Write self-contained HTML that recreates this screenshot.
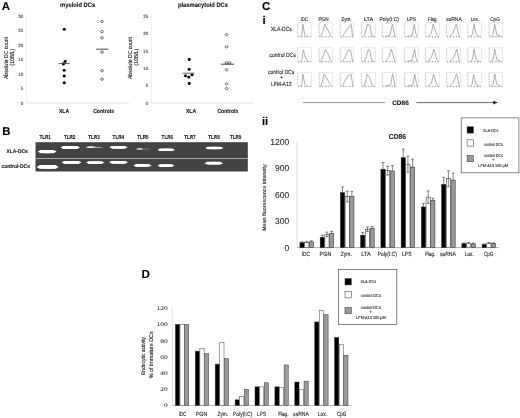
<!DOCTYPE html>
<html lang="en"><head><meta charset="utf-8"><title>Figure</title>
<style>
html,body{margin:0;padding:0;background:#fff;}
body{width:520px;height:418px;overflow:hidden;}
svg{display:block;font-family:"Liberation Sans", sans-serif;text-rendering:geometricPrecision;}
</style></head><body>
<svg width="520" height="418" viewBox="0 0 520 418">
<rect width="520" height="418" fill="#fff"/>
<text x="1.8" y="9.8" font-size="11.4" font-weight="bold" text-anchor="start" fill="#000" stroke="#000" stroke-width="0.1">A</text>
<text x="60" y="7.1" font-size="6.5" font-weight="bold" text-anchor="start" fill="#1a1a1a" stroke="#1a1a1a" stroke-width="0.12" textLength="35.2" lengthAdjust="spacingAndGlyphs">myeloid DCs</text>
<line x1="26.3" y1="14" x2="26.3" y2="103" stroke="#e6e6e6" stroke-width="0.7"/>
<line x1="26.3" y1="103" x2="129.3" y2="103" stroke="#dadada" stroke-width="0.8"/>
<text x="23.2" y="104.6" font-size="4.5" font-weight="normal" text-anchor="end" fill="#555" stroke="#555" stroke-width="0.13">0</text>
<text x="23.2" y="90.1" font-size="4.5" font-weight="normal" text-anchor="end" fill="#555" stroke="#555" stroke-width="0.13">5</text>
<text x="23.2" y="75.6" font-size="4.5" font-weight="normal" text-anchor="end" fill="#555" stroke="#555" stroke-width="0.13">10</text>
<text x="23.2" y="61.1" font-size="4.5" font-weight="normal" text-anchor="end" fill="#555" stroke="#555" stroke-width="0.13">15</text>
<text x="23.2" y="46.6" font-size="4.5" font-weight="normal" text-anchor="end" fill="#555" stroke="#555" stroke-width="0.13">20</text>
<text x="23.2" y="32.1" font-size="4.5" font-weight="normal" text-anchor="end" fill="#555" stroke="#555" stroke-width="0.13">25</text>
<text x="23.2" y="17.6" font-size="4.5" font-weight="normal" text-anchor="end" fill="#555" stroke="#555" stroke-width="0.13">30</text>
<circle cx="64.3" cy="29.3" r="1.55" fill="#0a0a0a"/>
<circle cx="65.2" cy="61.4" r="1.55" fill="#0a0a0a"/>
<circle cx="63.4" cy="63.9" r="1.55" fill="#0a0a0a"/>
<circle cx="64.2" cy="70.2" r="1.55" fill="#0a0a0a"/>
<circle cx="64.2" cy="76" r="1.55" fill="#0a0a0a"/>
<circle cx="64.2" cy="82.8" r="1.55" fill="#0a0a0a"/>
<line x1="58.5" y1="63.5" x2="69.8" y2="63.5" stroke="#444" stroke-width="0.8"/>
<ellipse cx="102" cy="21.4" rx="1.4" ry="1.15" fill="#fff" stroke="#2a2a2a" stroke-width="0.65"/>
<ellipse cx="102" cy="31.6" rx="1.4" ry="1.15" fill="#fff" stroke="#2a2a2a" stroke-width="0.65"/>
<ellipse cx="102" cy="37.8" rx="1.4" ry="1.15" fill="#fff" stroke="#2a2a2a" stroke-width="0.65"/>
<ellipse cx="102" cy="52.1" rx="1.4" ry="1.15" fill="#fff" stroke="#2a2a2a" stroke-width="0.65"/>
<ellipse cx="102" cy="70.7" rx="1.4" ry="1.15" fill="#fff" stroke="#2a2a2a" stroke-width="0.65"/>
<ellipse cx="102" cy="79.2" rx="1.4" ry="1.15" fill="#fff" stroke="#2a2a2a" stroke-width="0.65"/>
<line x1="96.2" y1="49.2" x2="108.3" y2="49.2" stroke="#333" stroke-width="0.9"/>
<text x="58.949999999999996" y="112.8" font-size="5.9" font-weight="bold" text-anchor="start" fill="#1a1a1a" stroke="#1a1a1a" stroke-width="0.12" textLength="10.2" lengthAdjust="spacingAndGlyphs">XLA</text>
<text x="93.14999999999999" y="112.8" font-size="5.9" font-weight="bold" text-anchor="start" fill="#1a1a1a" stroke="#1a1a1a" stroke-width="0.12" textLength="20.8" lengthAdjust="spacingAndGlyphs">Controls</text>
<text x="7.6" y="58" font-size="5.8" font-weight="normal" text-anchor="middle" fill="#222" stroke="#222" stroke-width="0.13" transform="rotate(-90 7.6 58)" textLength="42" lengthAdjust="spacingAndGlyphs">Absolute DC count</text>
<text x="13.8" y="57.2" font-size="5.8" font-weight="normal" text-anchor="middle" fill="#222" stroke="#222" stroke-width="0.13" transform="rotate(-90 13.8 57.2)" textLength="16.8" lengthAdjust="spacingAndGlyphs">(106/L)</text>
<text x="178" y="7.1" font-size="6.5" font-weight="bold" text-anchor="start" fill="#1a1a1a" stroke="#1a1a1a" stroke-width="0.12" textLength="50" lengthAdjust="spacingAndGlyphs">plasmacytoid DCs</text>
<line x1="151.3" y1="14" x2="151.3" y2="103" stroke="#e6e6e6" stroke-width="0.7"/>
<line x1="151.3" y1="103" x2="254.3" y2="103" stroke="#dadada" stroke-width="0.8"/>
<text x="148.20000000000002" y="104.6" font-size="4.5" font-weight="normal" text-anchor="end" fill="#555" stroke="#555" stroke-width="0.13">0</text>
<text x="148.20000000000002" y="87.25" font-size="4.5" font-weight="normal" text-anchor="end" fill="#555" stroke="#555" stroke-width="0.13">5</text>
<text x="148.20000000000002" y="69.89999999999999" font-size="4.5" font-weight="normal" text-anchor="end" fill="#555" stroke="#555" stroke-width="0.13">10</text>
<text x="148.20000000000002" y="52.55" font-size="4.5" font-weight="normal" text-anchor="end" fill="#555" stroke="#555" stroke-width="0.13">15</text>
<text x="148.20000000000002" y="35.199999999999996" font-size="4.5" font-weight="normal" text-anchor="end" fill="#555" stroke="#555" stroke-width="0.13">20</text>
<text x="148.20000000000002" y="17.85" font-size="4.5" font-weight="normal" text-anchor="end" fill="#555" stroke="#555" stroke-width="0.13">25</text>
<circle cx="189.2" cy="59.4" r="1.55" fill="#0a0a0a"/>
<circle cx="189.2" cy="69.2" r="1.55" fill="#0a0a0a"/>
<circle cx="188.8" cy="77.1" r="1.55" fill="#0a0a0a"/>
<circle cx="185.5" cy="75.7" r="1.55" fill="#0a0a0a"/>
<circle cx="192.0" cy="74.7" r="1.55" fill="#0a0a0a"/>
<circle cx="189.2" cy="83.4" r="1.55" fill="#0a0a0a"/>
<line x1="182.6" y1="73.2" x2="194.5" y2="73.2" stroke="#444" stroke-width="0.8"/>
<ellipse cx="226.6" cy="34.7" rx="1.4" ry="1.15" fill="#fff" stroke="#2a2a2a" stroke-width="0.65"/>
<ellipse cx="226.6" cy="46.8" rx="1.4" ry="1.15" fill="#fff" stroke="#2a2a2a" stroke-width="0.65"/>
<ellipse cx="226.6" cy="62.8" rx="1.4" ry="1.15" fill="#fff" stroke="#2a2a2a" stroke-width="0.65"/>
<ellipse cx="229.6" cy="62.8" rx="1.4" ry="1.15" fill="#fff" stroke="#2a2a2a" stroke-width="0.65"/>
<ellipse cx="226.6" cy="69.7" rx="1.4" ry="1.15" fill="#fff" stroke="#2a2a2a" stroke-width="0.65"/>
<ellipse cx="226.6" cy="83.9" rx="1.4" ry="1.15" fill="#fff" stroke="#2a2a2a" stroke-width="0.65"/>
<ellipse cx="226.6" cy="88.6" rx="1.4" ry="1.15" fill="#fff" stroke="#2a2a2a" stroke-width="0.65"/>
<line x1="220.8" y1="64.2" x2="234" y2="64.2" stroke="#333" stroke-width="0.9"/>
<text x="185.95000000000002" y="112.8" font-size="5.9" font-weight="bold" text-anchor="start" fill="#1a1a1a" stroke="#1a1a1a" stroke-width="0.12" textLength="10.2" lengthAdjust="spacingAndGlyphs">XLA</text>
<text x="217.45" y="112.8" font-size="5.9" font-weight="bold" text-anchor="start" fill="#1a1a1a" stroke="#1a1a1a" stroke-width="0.12" textLength="20.8" lengthAdjust="spacingAndGlyphs">Controls</text>
<text x="131.6" y="58" font-size="5.8" font-weight="normal" text-anchor="middle" fill="#222" stroke="#222" stroke-width="0.13" transform="rotate(-90 131.6 58)" textLength="42" lengthAdjust="spacingAndGlyphs">Absolute DC count</text>
<text x="137.79999999999998" y="57.2" font-size="5.8" font-weight="normal" text-anchor="middle" fill="#222" stroke="#222" stroke-width="0.13" transform="rotate(-90 137.79999999999998 57.2)" textLength="16.8" lengthAdjust="spacingAndGlyphs">(106/L)</text>
<text x="2.3" y="135.1" font-size="11.4" font-weight="bold" text-anchor="start" fill="#000" stroke="#000" stroke-width="0.1">B</text>
<rect x="35.5" y="142.2" width="212.3" height="29.3" fill="#434343"/>
<rect x="35.5" y="158.0" width="212.3" height="1.0" fill="#a8a8a8"/>
<text x="39.4" y="139.0" font-size="5.8" font-weight="bold" text-anchor="start" fill="#1a1a1a" stroke="#1a1a1a" stroke-width="0.12" textLength="11.4" lengthAdjust="spacingAndGlyphs">TLR1</text>
<text x="64.0" y="139.0" font-size="5.8" font-weight="bold" text-anchor="start" fill="#1a1a1a" stroke="#1a1a1a" stroke-width="0.12" textLength="11.4" lengthAdjust="spacingAndGlyphs">TLR2</text>
<text x="88.3" y="139.0" font-size="5.8" font-weight="bold" text-anchor="start" fill="#1a1a1a" stroke="#1a1a1a" stroke-width="0.12" textLength="11.4" lengthAdjust="spacingAndGlyphs">TLR3</text>
<text x="112.6" y="139.0" font-size="5.8" font-weight="bold" text-anchor="start" fill="#1a1a1a" stroke="#1a1a1a" stroke-width="0.12" textLength="11.4" lengthAdjust="spacingAndGlyphs">TLR4</text>
<text x="137.20000000000002" y="139.0" font-size="5.8" font-weight="bold" text-anchor="start" fill="#1a1a1a" stroke="#1a1a1a" stroke-width="0.12" textLength="11.4" lengthAdjust="spacingAndGlyphs">TLR5</text>
<text x="161.60000000000002" y="139.0" font-size="5.8" font-weight="bold" text-anchor="start" fill="#1a1a1a" stroke="#1a1a1a" stroke-width="0.12" textLength="11.4" lengthAdjust="spacingAndGlyphs">TLR6</text>
<text x="184.20000000000002" y="139.0" font-size="5.8" font-weight="bold" text-anchor="start" fill="#1a1a1a" stroke="#1a1a1a" stroke-width="0.12" textLength="11.4" lengthAdjust="spacingAndGlyphs">TLR7</text>
<text x="208.3" y="139.0" font-size="5.8" font-weight="bold" text-anchor="start" fill="#1a1a1a" stroke="#1a1a1a" stroke-width="0.12" textLength="11.4" lengthAdjust="spacingAndGlyphs">TLR8</text>
<text x="229.9" y="139.0" font-size="5.8" font-weight="bold" text-anchor="start" fill="#1a1a1a" stroke="#1a1a1a" stroke-width="0.12" textLength="11.4" lengthAdjust="spacingAndGlyphs">TLR9</text>
<text x="6.5" y="152.8" font-size="5.5" font-weight="bold" text-anchor="start" fill="#1a1a1a" stroke="#1a1a1a" stroke-width="0.12" textLength="21.3" lengthAdjust="spacingAndGlyphs">XLA-DCs</text>
<text x="1.5" y="168" font-size="5.5" font-weight="bold" text-anchor="start" fill="#1a1a1a" stroke="#1a1a1a" stroke-width="0.12" textLength="28.5" lengthAdjust="spacingAndGlyphs">control-DCs</text>
<ellipse cx="47.15" cy="151.6" rx="9.350000000000001" ry="1.575" fill="#fff" opacity="1"/>
<rect x="39.3" y="150.025" width="15.700000000000003" height="3.15" rx="1.575" fill="#fff" opacity="1"/>
<ellipse cx="70.25" cy="147.6" rx="9.75" ry="1.4849999999999999" fill="#fff" opacity="1"/>
<rect x="62.0" y="146.11499999999998" width="16.5" height="2.9699999999999998" rx="1.4849999999999999" fill="#fff" opacity="1"/>
<ellipse cx="91.0" cy="147.3" rx="5.0" ry="0.765" fill="#f0f0f0" opacity="1"/>
<rect x="87.5" y="146.53500000000003" width="7.0" height="1.53" rx="0.765" fill="#f0f0f0" opacity="1"/>
<ellipse cx="97.25" cy="147.4" rx="5.25" ry="0.45" fill="#b5b5b5" opacity="1"/>
<rect x="93.5" y="146.95000000000002" width="7.5" height="0.9" rx="0.45" fill="#b5b5b5" opacity="1"/>
<ellipse cx="118.5" cy="147.3" rx="9.0" ry="1.395" fill="#fff" opacity="1"/>
<rect x="111.0" y="145.905" width="15.0" height="2.79" rx="1.395" fill="#fff" opacity="1"/>
<ellipse cx="139.75" cy="148.9" rx="3.75" ry="0.675" fill="#cfcfcf" opacity="1"/>
<rect x="137.5" y="148.225" width="4.5" height="1.35" rx="0.675" fill="#cfcfcf" opacity="1"/>
<ellipse cx="146.5" cy="149.0" rx="4.5" ry="0.36000000000000004" fill="#8a8a8a" opacity="1"/>
<rect x="143.5" y="148.64" width="6.0" height="0.7200000000000001" rx="0.36000000000000004" fill="#8a8a8a" opacity="1"/>
<ellipse cx="166.25" cy="149.8" rx="8.75" ry="1.215" fill="#fff" opacity="1"/>
<rect x="159.0" y="148.585" width="14.5" height="2.43" rx="1.215" fill="#fff" opacity="1"/>
<ellipse cx="214.35" cy="148" rx="9.150000000000006" ry="1.215" fill="#fff" opacity="1"/>
<rect x="206.7" y="146.785" width="15.300000000000011" height="2.43" rx="1.215" fill="#fff" opacity="1"/>
<ellipse cx="47.65" cy="166.9" rx="10.850000000000001" ry="1.935" fill="#fff" opacity="1"/>
<rect x="38.3" y="164.965" width="18.700000000000003" height="3.87" rx="1.935" fill="#fff" opacity="1"/>
<ellipse cx="71.5" cy="162.4" rx="9.700000000000003" ry="1.4849999999999999" fill="#fff" opacity="1"/>
<rect x="63.3" y="160.915" width="16.400000000000006" height="2.9699999999999998" rx="1.4849999999999999" fill="#fff" opacity="1"/>
<ellipse cx="95.25" cy="162.6" rx="9.25" ry="1.305" fill="#fff" opacity="1"/>
<rect x="87.5" y="161.295" width="15.5" height="2.61" rx="1.305" fill="#fff" opacity="1"/>
<ellipse cx="118.6" cy="162.3" rx="9.399999999999999" ry="1.395" fill="#fff" opacity="1"/>
<rect x="110.7" y="160.905" width="15.799999999999997" height="2.79" rx="1.395" fill="#fff" opacity="1"/>
<ellipse cx="142.5" cy="165.4" rx="9.0" ry="1.395" fill="#fff" opacity="1"/>
<rect x="135.0" y="164.005" width="15.0" height="2.79" rx="1.395" fill="#fff" opacity="1"/>
<ellipse cx="166.0" cy="165.6" rx="8.5" ry="1.305" fill="#fff" opacity="1"/>
<rect x="159.0" y="164.295" width="14.0" height="2.61" rx="1.305" fill="#fff" opacity="1"/>
<ellipse cx="213.75" cy="163.2" rx="9.25" ry="1.395" fill="#fff" opacity="1"/>
<rect x="206.0" y="161.80499999999998" width="15.5" height="2.79" rx="1.395" fill="#fff" opacity="1"/>
<text x="262.1" y="9.5" font-size="11.4" font-weight="bold" text-anchor="start" fill="#000" stroke="#000" stroke-width="0.1">C</text>
<text x="262.5" y="23.5" font-size="11.4" font-weight="bold" text-anchor="start" fill="#000" stroke="#000" stroke-width="0.1">i</text>
<text x="304.3" y="20.9" font-size="5.4" font-weight="normal" text-anchor="middle" fill="#2a2a2a" stroke="#2a2a2a" stroke-width="0.13" textLength="7.3" lengthAdjust="spacingAndGlyphs">iDC</text>
<text x="323.5" y="20.9" font-size="5.4" font-weight="normal" text-anchor="middle" fill="#2a2a2a" stroke="#2a2a2a" stroke-width="0.13" textLength="10.2" lengthAdjust="spacingAndGlyphs">PGN</text>
<text x="346.5" y="20.9" font-size="5.4" font-weight="normal" text-anchor="middle" fill="#2a2a2a" stroke="#2a2a2a" stroke-width="0.13" textLength="10.3" lengthAdjust="spacingAndGlyphs">Zym.</text>
<text x="368.6" y="20.9" font-size="5.4" font-weight="normal" text-anchor="middle" fill="#2a2a2a" stroke="#2a2a2a" stroke-width="0.13" textLength="9.4" lengthAdjust="spacingAndGlyphs">LTA</text>
<text x="389.2" y="20.9" font-size="5.4" font-weight="normal" text-anchor="middle" fill="#2a2a2a" stroke="#2a2a2a" stroke-width="0.13" textLength="19.4" lengthAdjust="spacingAndGlyphs">Poly(I:C)</text>
<text x="411.5" y="20.9" font-size="5.4" font-weight="normal" text-anchor="middle" fill="#2a2a2a" stroke="#2a2a2a" stroke-width="0.13" textLength="9.2" lengthAdjust="spacingAndGlyphs">LPS</text>
<text x="432.8" y="20.9" font-size="5.4" font-weight="normal" text-anchor="middle" fill="#2a2a2a" stroke="#2a2a2a" stroke-width="0.13" textLength="9.5" lengthAdjust="spacingAndGlyphs">Flag.</text>
<text x="454" y="20.9" font-size="5.4" font-weight="normal" text-anchor="middle" fill="#2a2a2a" stroke="#2a2a2a" stroke-width="0.13" textLength="15.6" lengthAdjust="spacingAndGlyphs">ssRNA</text>
<text x="474.8" y="20.9" font-size="5.4" font-weight="normal" text-anchor="middle" fill="#2a2a2a" stroke="#2a2a2a" stroke-width="0.13" textLength="8.3" lengthAdjust="spacingAndGlyphs">Lox.</text>
<text x="495" y="20.9" font-size="5.4" font-weight="normal" text-anchor="middle" fill="#2a2a2a" stroke="#2a2a2a" stroke-width="0.13" textLength="9.6" lengthAdjust="spacingAndGlyphs">CpG</text>
<text x="271" y="31.3" font-size="6.0" font-weight="normal" text-anchor="start" fill="#2a2a2a" stroke="#2a2a2a" stroke-width="0.13" textLength="20.8" lengthAdjust="spacingAndGlyphs">XLA-DCs</text>
<text x="269.5" y="56.9" font-size="6.0" font-weight="normal" text-anchor="start" fill="#2a2a2a" stroke="#2a2a2a" stroke-width="0.13" textLength="26.2" lengthAdjust="spacingAndGlyphs">control DCs</text>
<text x="268" y="74.2" font-size="6.0" font-weight="normal" text-anchor="start" fill="#2a2a2a" stroke="#2a2a2a" stroke-width="0.13" textLength="26.2" lengthAdjust="spacingAndGlyphs">control DCs</text>
<text x="281.5" y="79.2" font-size="4.5" font-weight="normal" text-anchor="middle" fill="#2a2a2a" stroke="#2a2a2a" stroke-width="0.13">+</text>
<text x="271" y="85.8" font-size="6.0" font-weight="normal" text-anchor="start" fill="#2a2a2a" stroke="#2a2a2a" stroke-width="0.13" textLength="20.5" lengthAdjust="spacingAndGlyphs">LFM-A13</text>
<rect x="298.0" y="22.8" width="13.5" height="13.7" fill="none" stroke="#d8d8d8" stroke-width="0.5"/>
<line x1="296.9" y1="24.3" x2="298.2" y2="24.3" stroke="#a5a5a5" stroke-width="0.5"/>
<line x1="296.9" y1="27.0" x2="298.2" y2="27.0" stroke="#a5a5a5" stroke-width="0.5"/>
<line x1="296.9" y1="29.700000000000003" x2="298.2" y2="29.700000000000003" stroke="#a5a5a5" stroke-width="0.5"/>
<line x1="296.9" y1="32.400000000000006" x2="298.2" y2="32.400000000000006" stroke="#a5a5a5" stroke-width="0.5"/>
<line x1="296.9" y1="35.1" x2="298.2" y2="35.1" stroke="#a5a5a5" stroke-width="0.5"/>
<line x1="298.6" y1="36.1" x2="298.6" y2="37.5" stroke="#858585" stroke-width="0.7"/>
<line x1="301.6" y1="36.1" x2="301.6" y2="37.5" stroke="#858585" stroke-width="0.7"/>
<line x1="304.6" y1="36.1" x2="304.6" y2="37.5" stroke="#858585" stroke-width="0.7"/>
<line x1="307.6" y1="36.1" x2="307.6" y2="37.5" stroke="#858585" stroke-width="0.7"/>
<line x1="310.6" y1="36.1" x2="310.6" y2="37.5" stroke="#858585" stroke-width="0.7"/>
<polyline points="300.02,36.50 301.78,35.40 302.86,24.17 304.75,34.86 307.45,36.50" fill="none" stroke="#949494" stroke-width="0.75" stroke-linejoin="round"/>
<rect x="319.3" y="22.8" width="13.5" height="13.7" fill="none" stroke="#d8d8d8" stroke-width="0.5"/>
<line x1="318.2" y1="24.3" x2="319.5" y2="24.3" stroke="#a5a5a5" stroke-width="0.5"/>
<line x1="318.2" y1="27.0" x2="319.5" y2="27.0" stroke="#a5a5a5" stroke-width="0.5"/>
<line x1="318.2" y1="29.700000000000003" x2="319.5" y2="29.700000000000003" stroke="#a5a5a5" stroke-width="0.5"/>
<line x1="318.2" y1="32.400000000000006" x2="319.5" y2="32.400000000000006" stroke="#a5a5a5" stroke-width="0.5"/>
<line x1="318.2" y1="35.1" x2="319.5" y2="35.1" stroke="#a5a5a5" stroke-width="0.5"/>
<line x1="319.90000000000003" y1="36.1" x2="319.90000000000003" y2="37.5" stroke="#858585" stroke-width="0.7"/>
<line x1="322.90000000000003" y1="36.1" x2="322.90000000000003" y2="37.5" stroke="#858585" stroke-width="0.7"/>
<line x1="325.90000000000003" y1="36.1" x2="325.90000000000003" y2="37.5" stroke="#858585" stroke-width="0.7"/>
<line x1="328.90000000000003" y1="36.1" x2="328.90000000000003" y2="37.5" stroke="#858585" stroke-width="0.7"/>
<line x1="331.90000000000003" y1="36.1" x2="331.90000000000003" y2="37.5" stroke="#858585" stroke-width="0.7"/>
<polyline points="320.65,36.50 322.68,32.39 324.70,24.17 327.40,28.96 330.78,35.81" fill="none" stroke="#949494" stroke-width="0.75" stroke-linejoin="round"/>
<rect x="340.3" y="22.8" width="13.5" height="13.7" fill="none" stroke="#d8d8d8" stroke-width="0.5"/>
<line x1="339.2" y1="24.3" x2="340.5" y2="24.3" stroke="#a5a5a5" stroke-width="0.5"/>
<line x1="339.2" y1="27.0" x2="340.5" y2="27.0" stroke="#a5a5a5" stroke-width="0.5"/>
<line x1="339.2" y1="29.700000000000003" x2="340.5" y2="29.700000000000003" stroke="#a5a5a5" stroke-width="0.5"/>
<line x1="339.2" y1="32.400000000000006" x2="340.5" y2="32.400000000000006" stroke="#a5a5a5" stroke-width="0.5"/>
<line x1="339.2" y1="35.1" x2="340.5" y2="35.1" stroke="#a5a5a5" stroke-width="0.5"/>
<line x1="340.90000000000003" y1="36.1" x2="340.90000000000003" y2="37.5" stroke="#858585" stroke-width="0.7"/>
<line x1="343.90000000000003" y1="36.1" x2="343.90000000000003" y2="37.5" stroke="#858585" stroke-width="0.7"/>
<line x1="346.90000000000003" y1="36.1" x2="346.90000000000003" y2="37.5" stroke="#858585" stroke-width="0.7"/>
<line x1="349.90000000000003" y1="36.1" x2="349.90000000000003" y2="37.5" stroke="#858585" stroke-width="0.7"/>
<line x1="352.90000000000003" y1="36.1" x2="352.90000000000003" y2="37.5" stroke="#858585" stroke-width="0.7"/>
<polyline points="342.32,36.50 345.70,31.29 351.10,24.44 351.91,29.65 352.45,36.50" fill="none" stroke="#949494" stroke-width="0.75" stroke-linejoin="round"/>
<rect x="361.8" y="22.8" width="13.5" height="13.7" fill="none" stroke="#d8d8d8" stroke-width="0.5"/>
<line x1="360.7" y1="24.3" x2="362.0" y2="24.3" stroke="#a5a5a5" stroke-width="0.5"/>
<line x1="360.7" y1="27.0" x2="362.0" y2="27.0" stroke="#a5a5a5" stroke-width="0.5"/>
<line x1="360.7" y1="29.700000000000003" x2="362.0" y2="29.700000000000003" stroke="#a5a5a5" stroke-width="0.5"/>
<line x1="360.7" y1="32.400000000000006" x2="362.0" y2="32.400000000000006" stroke="#a5a5a5" stroke-width="0.5"/>
<line x1="360.7" y1="35.1" x2="362.0" y2="35.1" stroke="#a5a5a5" stroke-width="0.5"/>
<line x1="362.40000000000003" y1="36.1" x2="362.40000000000003" y2="37.5" stroke="#858585" stroke-width="0.7"/>
<line x1="365.40000000000003" y1="36.1" x2="365.40000000000003" y2="37.5" stroke="#858585" stroke-width="0.7"/>
<line x1="368.40000000000003" y1="36.1" x2="368.40000000000003" y2="37.5" stroke="#858585" stroke-width="0.7"/>
<line x1="371.40000000000003" y1="36.1" x2="371.40000000000003" y2="37.5" stroke="#858585" stroke-width="0.7"/>
<line x1="374.40000000000003" y1="36.1" x2="374.40000000000003" y2="37.5" stroke="#858585" stroke-width="0.7"/>
<polyline points="363.82,36.50 365.58,32.39 367.20,24.44 369.90,24.99 371.52,35.13 373.95,36.50" fill="none" stroke="#949494" stroke-width="0.75" stroke-linejoin="round"/>
<rect x="382.6" y="22.8" width="13.5" height="13.7" fill="none" stroke="#d8d8d8" stroke-width="0.5"/>
<line x1="381.5" y1="24.3" x2="382.8" y2="24.3" stroke="#a5a5a5" stroke-width="0.5"/>
<line x1="381.5" y1="27.0" x2="382.8" y2="27.0" stroke="#a5a5a5" stroke-width="0.5"/>
<line x1="381.5" y1="29.700000000000003" x2="382.8" y2="29.700000000000003" stroke="#a5a5a5" stroke-width="0.5"/>
<line x1="381.5" y1="32.400000000000006" x2="382.8" y2="32.400000000000006" stroke="#a5a5a5" stroke-width="0.5"/>
<line x1="381.5" y1="35.1" x2="382.8" y2="35.1" stroke="#a5a5a5" stroke-width="0.5"/>
<line x1="383.20000000000005" y1="36.1" x2="383.20000000000005" y2="37.5" stroke="#858585" stroke-width="0.7"/>
<line x1="386.20000000000005" y1="36.1" x2="386.20000000000005" y2="37.5" stroke="#858585" stroke-width="0.7"/>
<line x1="389.20000000000005" y1="36.1" x2="389.20000000000005" y2="37.5" stroke="#858585" stroke-width="0.7"/>
<line x1="392.20000000000005" y1="36.1" x2="392.20000000000005" y2="37.5" stroke="#858585" stroke-width="0.7"/>
<line x1="395.20000000000005" y1="36.1" x2="395.20000000000005" y2="37.5" stroke="#858585" stroke-width="0.7"/>
<polyline points="385.30,36.50 390.03,35.13 392.32,24.17 393.94,31.02 394.75,36.50" fill="none" stroke="#949494" stroke-width="0.75" stroke-linejoin="round"/>
<rect x="404.8" y="22.8" width="13.5" height="13.7" fill="none" stroke="#d8d8d8" stroke-width="0.5"/>
<line x1="403.7" y1="24.3" x2="405.0" y2="24.3" stroke="#a5a5a5" stroke-width="0.5"/>
<line x1="403.7" y1="27.0" x2="405.0" y2="27.0" stroke="#a5a5a5" stroke-width="0.5"/>
<line x1="403.7" y1="29.700000000000003" x2="405.0" y2="29.700000000000003" stroke="#a5a5a5" stroke-width="0.5"/>
<line x1="403.7" y1="32.400000000000006" x2="405.0" y2="32.400000000000006" stroke="#a5a5a5" stroke-width="0.5"/>
<line x1="403.7" y1="35.1" x2="405.0" y2="35.1" stroke="#a5a5a5" stroke-width="0.5"/>
<line x1="405.40000000000003" y1="36.1" x2="405.40000000000003" y2="37.5" stroke="#858585" stroke-width="0.7"/>
<line x1="408.40000000000003" y1="36.1" x2="408.40000000000003" y2="37.5" stroke="#858585" stroke-width="0.7"/>
<line x1="411.40000000000003" y1="36.1" x2="411.40000000000003" y2="37.5" stroke="#858585" stroke-width="0.7"/>
<line x1="414.40000000000003" y1="36.1" x2="414.40000000000003" y2="37.5" stroke="#858585" stroke-width="0.7"/>
<line x1="417.40000000000003" y1="36.1" x2="417.40000000000003" y2="37.5" stroke="#858585" stroke-width="0.7"/>
<polyline points="407.50,36.50 412.23,35.13 414.25,24.17 415.60,32.39 416.95,36.50" fill="none" stroke="#949494" stroke-width="0.75" stroke-linejoin="round"/>
<rect x="425.8" y="22.8" width="13.5" height="13.7" fill="none" stroke="#d8d8d8" stroke-width="0.5"/>
<line x1="424.7" y1="24.3" x2="426.0" y2="24.3" stroke="#a5a5a5" stroke-width="0.5"/>
<line x1="424.7" y1="27.0" x2="426.0" y2="27.0" stroke="#a5a5a5" stroke-width="0.5"/>
<line x1="424.7" y1="29.700000000000003" x2="426.0" y2="29.700000000000003" stroke="#a5a5a5" stroke-width="0.5"/>
<line x1="424.7" y1="32.400000000000006" x2="426.0" y2="32.400000000000006" stroke="#a5a5a5" stroke-width="0.5"/>
<line x1="424.7" y1="35.1" x2="426.0" y2="35.1" stroke="#a5a5a5" stroke-width="0.5"/>
<line x1="426.40000000000003" y1="36.1" x2="426.40000000000003" y2="37.5" stroke="#858585" stroke-width="0.7"/>
<line x1="429.40000000000003" y1="36.1" x2="429.40000000000003" y2="37.5" stroke="#858585" stroke-width="0.7"/>
<line x1="432.40000000000003" y1="36.1" x2="432.40000000000003" y2="37.5" stroke="#858585" stroke-width="0.7"/>
<line x1="435.40000000000003" y1="36.1" x2="435.40000000000003" y2="37.5" stroke="#858585" stroke-width="0.7"/>
<line x1="438.40000000000003" y1="36.1" x2="438.40000000000003" y2="37.5" stroke="#858585" stroke-width="0.7"/>
<polyline points="427.82,36.50 431.20,33.76 433.23,24.17 435.25,31.02 437.68,35.81" fill="none" stroke="#949494" stroke-width="0.75" stroke-linejoin="round"/>
<rect x="446.8" y="22.8" width="13.5" height="13.7" fill="none" stroke="#d8d8d8" stroke-width="0.5"/>
<line x1="445.7" y1="24.3" x2="447.0" y2="24.3" stroke="#a5a5a5" stroke-width="0.5"/>
<line x1="445.7" y1="27.0" x2="447.0" y2="27.0" stroke="#a5a5a5" stroke-width="0.5"/>
<line x1="445.7" y1="29.700000000000003" x2="447.0" y2="29.700000000000003" stroke="#a5a5a5" stroke-width="0.5"/>
<line x1="445.7" y1="32.400000000000006" x2="447.0" y2="32.400000000000006" stroke="#a5a5a5" stroke-width="0.5"/>
<line x1="445.7" y1="35.1" x2="447.0" y2="35.1" stroke="#a5a5a5" stroke-width="0.5"/>
<line x1="447.40000000000003" y1="36.1" x2="447.40000000000003" y2="37.5" stroke="#858585" stroke-width="0.7"/>
<line x1="450.40000000000003" y1="36.1" x2="450.40000000000003" y2="37.5" stroke="#858585" stroke-width="0.7"/>
<line x1="453.40000000000003" y1="36.1" x2="453.40000000000003" y2="37.5" stroke="#858585" stroke-width="0.7"/>
<line x1="456.40000000000003" y1="36.1" x2="456.40000000000003" y2="37.5" stroke="#858585" stroke-width="0.7"/>
<line x1="459.40000000000003" y1="36.1" x2="459.40000000000003" y2="37.5" stroke="#858585" stroke-width="0.7"/>
<polyline points="449.50,36.50 452.88,33.08 456.25,24.17 457.87,31.02 458.95,36.50" fill="none" stroke="#949494" stroke-width="0.75" stroke-linejoin="round"/>
<rect x="468.0" y="22.8" width="13.5" height="13.7" fill="none" stroke="#d8d8d8" stroke-width="0.5"/>
<line x1="466.9" y1="24.3" x2="468.2" y2="24.3" stroke="#a5a5a5" stroke-width="0.5"/>
<line x1="466.9" y1="27.0" x2="468.2" y2="27.0" stroke="#a5a5a5" stroke-width="0.5"/>
<line x1="466.9" y1="29.700000000000003" x2="468.2" y2="29.700000000000003" stroke="#a5a5a5" stroke-width="0.5"/>
<line x1="466.9" y1="32.400000000000006" x2="468.2" y2="32.400000000000006" stroke="#a5a5a5" stroke-width="0.5"/>
<line x1="466.9" y1="35.1" x2="468.2" y2="35.1" stroke="#a5a5a5" stroke-width="0.5"/>
<line x1="468.6" y1="36.1" x2="468.6" y2="37.5" stroke="#858585" stroke-width="0.7"/>
<line x1="471.6" y1="36.1" x2="471.6" y2="37.5" stroke="#858585" stroke-width="0.7"/>
<line x1="474.6" y1="36.1" x2="474.6" y2="37.5" stroke="#858585" stroke-width="0.7"/>
<line x1="477.6" y1="36.1" x2="477.6" y2="37.5" stroke="#858585" stroke-width="0.7"/>
<line x1="480.6" y1="36.1" x2="480.6" y2="37.5" stroke="#858585" stroke-width="0.7"/>
<polyline points="470.02,36.50 472.45,34.45 474.07,24.17 476.10,34.45 479.48,36.50" fill="none" stroke="#949494" stroke-width="0.75" stroke-linejoin="round"/>
<rect x="489.3" y="22.8" width="13.5" height="13.7" fill="none" stroke="#d8d8d8" stroke-width="0.5"/>
<line x1="488.2" y1="24.3" x2="489.5" y2="24.3" stroke="#a5a5a5" stroke-width="0.5"/>
<line x1="488.2" y1="27.0" x2="489.5" y2="27.0" stroke="#a5a5a5" stroke-width="0.5"/>
<line x1="488.2" y1="29.700000000000003" x2="489.5" y2="29.700000000000003" stroke="#a5a5a5" stroke-width="0.5"/>
<line x1="488.2" y1="32.400000000000006" x2="489.5" y2="32.400000000000006" stroke="#a5a5a5" stroke-width="0.5"/>
<line x1="488.2" y1="35.1" x2="489.5" y2="35.1" stroke="#a5a5a5" stroke-width="0.5"/>
<line x1="489.90000000000003" y1="36.1" x2="489.90000000000003" y2="37.5" stroke="#858585" stroke-width="0.7"/>
<line x1="492.90000000000003" y1="36.1" x2="492.90000000000003" y2="37.5" stroke="#858585" stroke-width="0.7"/>
<line x1="495.90000000000003" y1="36.1" x2="495.90000000000003" y2="37.5" stroke="#858585" stroke-width="0.7"/>
<line x1="498.90000000000003" y1="36.1" x2="498.90000000000003" y2="37.5" stroke="#858585" stroke-width="0.7"/>
<line x1="501.90000000000003" y1="36.1" x2="501.90000000000003" y2="37.5" stroke="#858585" stroke-width="0.7"/>
<polyline points="490.92,36.50 493.08,34.45 494.70,24.17 496.73,34.45 500.78,36.50" fill="none" stroke="#949494" stroke-width="0.75" stroke-linejoin="round"/>
<rect x="298.0" y="47.8" width="13.5" height="13.7" fill="none" stroke="#d8d8d8" stroke-width="0.5"/>
<line x1="296.9" y1="49.3" x2="298.2" y2="49.3" stroke="#a5a5a5" stroke-width="0.5"/>
<line x1="296.9" y1="52.0" x2="298.2" y2="52.0" stroke="#a5a5a5" stroke-width="0.5"/>
<line x1="296.9" y1="54.699999999999996" x2="298.2" y2="54.699999999999996" stroke="#a5a5a5" stroke-width="0.5"/>
<line x1="296.9" y1="57.4" x2="298.2" y2="57.4" stroke="#a5a5a5" stroke-width="0.5"/>
<line x1="296.9" y1="60.099999999999994" x2="298.2" y2="60.099999999999994" stroke="#a5a5a5" stroke-width="0.5"/>
<line x1="298.6" y1="61.1" x2="298.6" y2="62.5" stroke="#858585" stroke-width="0.7"/>
<line x1="301.6" y1="61.1" x2="301.6" y2="62.5" stroke="#858585" stroke-width="0.7"/>
<line x1="304.6" y1="61.1" x2="304.6" y2="62.5" stroke="#858585" stroke-width="0.7"/>
<line x1="307.6" y1="61.1" x2="307.6" y2="62.5" stroke="#858585" stroke-width="0.7"/>
<line x1="310.6" y1="61.1" x2="310.6" y2="62.5" stroke="#858585" stroke-width="0.7"/>
<polyline points="300.02,61.50 302.05,59.44 303.40,49.85 305.43,57.39 308.12,61.50" fill="none" stroke="#949494" stroke-width="0.75" stroke-linejoin="round"/>
<rect x="319.3" y="47.8" width="13.5" height="13.7" fill="none" stroke="#d8d8d8" stroke-width="0.5"/>
<line x1="318.2" y1="49.3" x2="319.5" y2="49.3" stroke="#a5a5a5" stroke-width="0.5"/>
<line x1="318.2" y1="52.0" x2="319.5" y2="52.0" stroke="#a5a5a5" stroke-width="0.5"/>
<line x1="318.2" y1="54.699999999999996" x2="319.5" y2="54.699999999999996" stroke="#a5a5a5" stroke-width="0.5"/>
<line x1="318.2" y1="57.4" x2="319.5" y2="57.4" stroke="#a5a5a5" stroke-width="0.5"/>
<line x1="318.2" y1="60.099999999999994" x2="319.5" y2="60.099999999999994" stroke="#a5a5a5" stroke-width="0.5"/>
<line x1="319.90000000000003" y1="61.1" x2="319.90000000000003" y2="62.5" stroke="#858585" stroke-width="0.7"/>
<line x1="322.90000000000003" y1="61.1" x2="322.90000000000003" y2="62.5" stroke="#858585" stroke-width="0.7"/>
<line x1="325.90000000000003" y1="61.1" x2="325.90000000000003" y2="62.5" stroke="#858585" stroke-width="0.7"/>
<line x1="328.90000000000003" y1="61.1" x2="328.90000000000003" y2="62.5" stroke="#858585" stroke-width="0.7"/>
<line x1="331.90000000000003" y1="61.1" x2="331.90000000000003" y2="62.5" stroke="#858585" stroke-width="0.7"/>
<polyline points="320.65,61.50 323.35,56.02 325.38,49.44 328.07,53.96 330.78,60.81" fill="none" stroke="#949494" stroke-width="0.75" stroke-linejoin="round"/>
<rect x="340.3" y="47.8" width="13.5" height="13.7" fill="none" stroke="#d8d8d8" stroke-width="0.5"/>
<line x1="339.2" y1="49.3" x2="340.5" y2="49.3" stroke="#a5a5a5" stroke-width="0.5"/>
<line x1="339.2" y1="52.0" x2="340.5" y2="52.0" stroke="#a5a5a5" stroke-width="0.5"/>
<line x1="339.2" y1="54.699999999999996" x2="340.5" y2="54.699999999999996" stroke="#a5a5a5" stroke-width="0.5"/>
<line x1="339.2" y1="57.4" x2="340.5" y2="57.4" stroke="#a5a5a5" stroke-width="0.5"/>
<line x1="339.2" y1="60.099999999999994" x2="340.5" y2="60.099999999999994" stroke="#a5a5a5" stroke-width="0.5"/>
<line x1="340.90000000000003" y1="61.1" x2="340.90000000000003" y2="62.5" stroke="#858585" stroke-width="0.7"/>
<line x1="343.90000000000003" y1="61.1" x2="343.90000000000003" y2="62.5" stroke="#858585" stroke-width="0.7"/>
<line x1="346.90000000000003" y1="61.1" x2="346.90000000000003" y2="62.5" stroke="#858585" stroke-width="0.7"/>
<line x1="349.90000000000003" y1="61.1" x2="349.90000000000003" y2="62.5" stroke="#858585" stroke-width="0.7"/>
<line x1="352.90000000000003" y1="61.1" x2="352.90000000000003" y2="62.5" stroke="#858585" stroke-width="0.7"/>
<polyline points="342.32,61.50 345.70,56.02 348.40,49.85 350.43,50.54 351.78,56.02 352.45,61.50" fill="none" stroke="#949494" stroke-width="0.75" stroke-linejoin="round"/>
<rect x="361.8" y="47.8" width="13.5" height="13.7" fill="none" stroke="#d8d8d8" stroke-width="0.5"/>
<line x1="360.7" y1="49.3" x2="362.0" y2="49.3" stroke="#a5a5a5" stroke-width="0.5"/>
<line x1="360.7" y1="52.0" x2="362.0" y2="52.0" stroke="#a5a5a5" stroke-width="0.5"/>
<line x1="360.7" y1="54.699999999999996" x2="362.0" y2="54.699999999999996" stroke="#a5a5a5" stroke-width="0.5"/>
<line x1="360.7" y1="57.4" x2="362.0" y2="57.4" stroke="#a5a5a5" stroke-width="0.5"/>
<line x1="360.7" y1="60.099999999999994" x2="362.0" y2="60.099999999999994" stroke="#a5a5a5" stroke-width="0.5"/>
<line x1="362.40000000000003" y1="61.1" x2="362.40000000000003" y2="62.5" stroke="#858585" stroke-width="0.7"/>
<line x1="365.40000000000003" y1="61.1" x2="365.40000000000003" y2="62.5" stroke="#858585" stroke-width="0.7"/>
<line x1="368.40000000000003" y1="61.1" x2="368.40000000000003" y2="62.5" stroke="#858585" stroke-width="0.7"/>
<line x1="371.40000000000003" y1="61.1" x2="371.40000000000003" y2="62.5" stroke="#858585" stroke-width="0.7"/>
<line x1="374.40000000000003" y1="61.1" x2="374.40000000000003" y2="62.5" stroke="#858585" stroke-width="0.7"/>
<polyline points="363.82,61.50 366.12,57.39 368.28,49.44 369.90,50.54 371.52,60.13 373.95,61.50" fill="none" stroke="#949494" stroke-width="0.75" stroke-linejoin="round"/>
<rect x="382.6" y="47.8" width="13.5" height="13.7" fill="none" stroke="#d8d8d8" stroke-width="0.5"/>
<line x1="381.5" y1="49.3" x2="382.8" y2="49.3" stroke="#a5a5a5" stroke-width="0.5"/>
<line x1="381.5" y1="52.0" x2="382.8" y2="52.0" stroke="#a5a5a5" stroke-width="0.5"/>
<line x1="381.5" y1="54.699999999999996" x2="382.8" y2="54.699999999999996" stroke="#a5a5a5" stroke-width="0.5"/>
<line x1="381.5" y1="57.4" x2="382.8" y2="57.4" stroke="#a5a5a5" stroke-width="0.5"/>
<line x1="381.5" y1="60.099999999999994" x2="382.8" y2="60.099999999999994" stroke="#a5a5a5" stroke-width="0.5"/>
<line x1="383.20000000000005" y1="61.1" x2="383.20000000000005" y2="62.5" stroke="#858585" stroke-width="0.7"/>
<line x1="386.20000000000005" y1="61.1" x2="386.20000000000005" y2="62.5" stroke="#858585" stroke-width="0.7"/>
<line x1="389.20000000000005" y1="61.1" x2="389.20000000000005" y2="62.5" stroke="#858585" stroke-width="0.7"/>
<line x1="392.20000000000005" y1="61.1" x2="392.20000000000005" y2="62.5" stroke="#858585" stroke-width="0.7"/>
<line x1="395.20000000000005" y1="61.1" x2="395.20000000000005" y2="62.5" stroke="#858585" stroke-width="0.7"/>
<polyline points="385.30,61.50 388.68,57.39 391.38,49.17 393.40,56.02 394.75,61.50" fill="none" stroke="#949494" stroke-width="0.75" stroke-linejoin="round"/>
<rect x="404.8" y="47.8" width="13.5" height="13.7" fill="none" stroke="#d8d8d8" stroke-width="0.5"/>
<line x1="403.7" y1="49.3" x2="405.0" y2="49.3" stroke="#a5a5a5" stroke-width="0.5"/>
<line x1="403.7" y1="52.0" x2="405.0" y2="52.0" stroke="#a5a5a5" stroke-width="0.5"/>
<line x1="403.7" y1="54.699999999999996" x2="405.0" y2="54.699999999999996" stroke="#a5a5a5" stroke-width="0.5"/>
<line x1="403.7" y1="57.4" x2="405.0" y2="57.4" stroke="#a5a5a5" stroke-width="0.5"/>
<line x1="403.7" y1="60.099999999999994" x2="405.0" y2="60.099999999999994" stroke="#a5a5a5" stroke-width="0.5"/>
<line x1="405.40000000000003" y1="61.1" x2="405.40000000000003" y2="62.5" stroke="#858585" stroke-width="0.7"/>
<line x1="408.40000000000003" y1="61.1" x2="408.40000000000003" y2="62.5" stroke="#858585" stroke-width="0.7"/>
<line x1="411.40000000000003" y1="61.1" x2="411.40000000000003" y2="62.5" stroke="#858585" stroke-width="0.7"/>
<line x1="414.40000000000003" y1="61.1" x2="414.40000000000003" y2="62.5" stroke="#858585" stroke-width="0.7"/>
<line x1="417.40000000000003" y1="61.1" x2="417.40000000000003" y2="62.5" stroke="#858585" stroke-width="0.7"/>
<polyline points="407.50,61.50 412.23,60.13 414.52,49.44 415.87,57.39 416.95,61.50" fill="none" stroke="#949494" stroke-width="0.75" stroke-linejoin="round"/>
<rect x="425.8" y="47.8" width="13.5" height="13.7" fill="none" stroke="#d8d8d8" stroke-width="0.5"/>
<line x1="424.7" y1="49.3" x2="426.0" y2="49.3" stroke="#a5a5a5" stroke-width="0.5"/>
<line x1="424.7" y1="52.0" x2="426.0" y2="52.0" stroke="#a5a5a5" stroke-width="0.5"/>
<line x1="424.7" y1="54.699999999999996" x2="426.0" y2="54.699999999999996" stroke="#a5a5a5" stroke-width="0.5"/>
<line x1="424.7" y1="57.4" x2="426.0" y2="57.4" stroke="#a5a5a5" stroke-width="0.5"/>
<line x1="424.7" y1="60.099999999999994" x2="426.0" y2="60.099999999999994" stroke="#a5a5a5" stroke-width="0.5"/>
<line x1="426.40000000000003" y1="61.1" x2="426.40000000000003" y2="62.5" stroke="#858585" stroke-width="0.7"/>
<line x1="429.40000000000003" y1="61.1" x2="429.40000000000003" y2="62.5" stroke="#858585" stroke-width="0.7"/>
<line x1="432.40000000000003" y1="61.1" x2="432.40000000000003" y2="62.5" stroke="#858585" stroke-width="0.7"/>
<line x1="435.40000000000003" y1="61.1" x2="435.40000000000003" y2="62.5" stroke="#858585" stroke-width="0.7"/>
<line x1="438.40000000000003" y1="61.1" x2="438.40000000000003" y2="62.5" stroke="#858585" stroke-width="0.7"/>
<polyline points="427.42,61.50 431.20,58.07 433.90,49.17 435.93,57.39 437.95,61.50" fill="none" stroke="#949494" stroke-width="0.75" stroke-linejoin="round"/>
<rect x="446.8" y="47.8" width="13.5" height="13.7" fill="none" stroke="#d8d8d8" stroke-width="0.5"/>
<line x1="445.7" y1="49.3" x2="447.0" y2="49.3" stroke="#a5a5a5" stroke-width="0.5"/>
<line x1="445.7" y1="52.0" x2="447.0" y2="52.0" stroke="#a5a5a5" stroke-width="0.5"/>
<line x1="445.7" y1="54.699999999999996" x2="447.0" y2="54.699999999999996" stroke="#a5a5a5" stroke-width="0.5"/>
<line x1="445.7" y1="57.4" x2="447.0" y2="57.4" stroke="#a5a5a5" stroke-width="0.5"/>
<line x1="445.7" y1="60.099999999999994" x2="447.0" y2="60.099999999999994" stroke="#a5a5a5" stroke-width="0.5"/>
<line x1="447.40000000000003" y1="61.1" x2="447.40000000000003" y2="62.5" stroke="#858585" stroke-width="0.7"/>
<line x1="450.40000000000003" y1="61.1" x2="450.40000000000003" y2="62.5" stroke="#858585" stroke-width="0.7"/>
<line x1="453.40000000000003" y1="61.1" x2="453.40000000000003" y2="62.5" stroke="#858585" stroke-width="0.7"/>
<line x1="456.40000000000003" y1="61.1" x2="456.40000000000003" y2="62.5" stroke="#858585" stroke-width="0.7"/>
<line x1="459.40000000000003" y1="61.1" x2="459.40000000000003" y2="62.5" stroke="#858585" stroke-width="0.7"/>
<polyline points="449.50,61.50 453.55,58.07 456.79,49.17 458.28,56.02 459.22,61.50" fill="none" stroke="#949494" stroke-width="0.75" stroke-linejoin="round"/>
<rect x="468.0" y="47.8" width="13.5" height="13.7" fill="none" stroke="#d8d8d8" stroke-width="0.5"/>
<line x1="466.9" y1="49.3" x2="468.2" y2="49.3" stroke="#a5a5a5" stroke-width="0.5"/>
<line x1="466.9" y1="52.0" x2="468.2" y2="52.0" stroke="#a5a5a5" stroke-width="0.5"/>
<line x1="466.9" y1="54.699999999999996" x2="468.2" y2="54.699999999999996" stroke="#a5a5a5" stroke-width="0.5"/>
<line x1="466.9" y1="57.4" x2="468.2" y2="57.4" stroke="#a5a5a5" stroke-width="0.5"/>
<line x1="466.9" y1="60.099999999999994" x2="468.2" y2="60.099999999999994" stroke="#a5a5a5" stroke-width="0.5"/>
<line x1="468.6" y1="61.1" x2="468.6" y2="62.5" stroke="#858585" stroke-width="0.7"/>
<line x1="471.6" y1="61.1" x2="471.6" y2="62.5" stroke="#858585" stroke-width="0.7"/>
<line x1="474.6" y1="61.1" x2="474.6" y2="62.5" stroke="#858585" stroke-width="0.7"/>
<line x1="477.6" y1="61.1" x2="477.6" y2="62.5" stroke="#858585" stroke-width="0.7"/>
<line x1="480.6" y1="61.1" x2="480.6" y2="62.5" stroke="#858585" stroke-width="0.7"/>
<polyline points="470.02,61.50 472.45,59.44 474.07,49.17 476.10,59.44 479.48,61.50" fill="none" stroke="#949494" stroke-width="0.75" stroke-linejoin="round"/>
<rect x="489.3" y="47.8" width="13.5" height="13.7" fill="none" stroke="#d8d8d8" stroke-width="0.5"/>
<line x1="488.2" y1="49.3" x2="489.5" y2="49.3" stroke="#a5a5a5" stroke-width="0.5"/>
<line x1="488.2" y1="52.0" x2="489.5" y2="52.0" stroke="#a5a5a5" stroke-width="0.5"/>
<line x1="488.2" y1="54.699999999999996" x2="489.5" y2="54.699999999999996" stroke="#a5a5a5" stroke-width="0.5"/>
<line x1="488.2" y1="57.4" x2="489.5" y2="57.4" stroke="#a5a5a5" stroke-width="0.5"/>
<line x1="488.2" y1="60.099999999999994" x2="489.5" y2="60.099999999999994" stroke="#a5a5a5" stroke-width="0.5"/>
<line x1="489.90000000000003" y1="61.1" x2="489.90000000000003" y2="62.5" stroke="#858585" stroke-width="0.7"/>
<line x1="492.90000000000003" y1="61.1" x2="492.90000000000003" y2="62.5" stroke="#858585" stroke-width="0.7"/>
<line x1="495.90000000000003" y1="61.1" x2="495.90000000000003" y2="62.5" stroke="#858585" stroke-width="0.7"/>
<line x1="498.90000000000003" y1="61.1" x2="498.90000000000003" y2="62.5" stroke="#858585" stroke-width="0.7"/>
<line x1="501.90000000000003" y1="61.1" x2="501.90000000000003" y2="62.5" stroke="#858585" stroke-width="0.7"/>
<polyline points="490.92,61.50 493.08,59.44 494.70,49.17 496.73,59.44 500.78,61.50" fill="none" stroke="#949494" stroke-width="0.75" stroke-linejoin="round"/>
<rect x="298.0" y="72.5" width="13.5" height="13.7" fill="none" stroke="#d8d8d8" stroke-width="0.5"/>
<line x1="296.9" y1="74.0" x2="298.2" y2="74.0" stroke="#a5a5a5" stroke-width="0.5"/>
<line x1="296.9" y1="76.7" x2="298.2" y2="76.7" stroke="#a5a5a5" stroke-width="0.5"/>
<line x1="296.9" y1="79.4" x2="298.2" y2="79.4" stroke="#a5a5a5" stroke-width="0.5"/>
<line x1="296.9" y1="82.1" x2="298.2" y2="82.1" stroke="#a5a5a5" stroke-width="0.5"/>
<line x1="296.9" y1="84.8" x2="298.2" y2="84.8" stroke="#a5a5a5" stroke-width="0.5"/>
<line x1="298.6" y1="85.8" x2="298.6" y2="87.2" stroke="#858585" stroke-width="0.7"/>
<line x1="301.6" y1="85.8" x2="301.6" y2="87.2" stroke="#858585" stroke-width="0.7"/>
<line x1="304.6" y1="85.8" x2="304.6" y2="87.2" stroke="#858585" stroke-width="0.7"/>
<line x1="307.6" y1="85.8" x2="307.6" y2="87.2" stroke="#858585" stroke-width="0.7"/>
<line x1="310.6" y1="85.8" x2="310.6" y2="87.2" stroke="#858585" stroke-width="0.7"/>
<polyline points="300.02,86.20 301.78,84.83 302.86,74.14 304.75,84.14 307.45,86.20" fill="none" stroke="#949494" stroke-width="0.75" stroke-linejoin="round"/>
<rect x="319.3" y="72.5" width="13.5" height="13.7" fill="none" stroke="#d8d8d8" stroke-width="0.5"/>
<line x1="318.2" y1="74.0" x2="319.5" y2="74.0" stroke="#a5a5a5" stroke-width="0.5"/>
<line x1="318.2" y1="76.7" x2="319.5" y2="76.7" stroke="#a5a5a5" stroke-width="0.5"/>
<line x1="318.2" y1="79.4" x2="319.5" y2="79.4" stroke="#a5a5a5" stroke-width="0.5"/>
<line x1="318.2" y1="82.1" x2="319.5" y2="82.1" stroke="#a5a5a5" stroke-width="0.5"/>
<line x1="318.2" y1="84.8" x2="319.5" y2="84.8" stroke="#a5a5a5" stroke-width="0.5"/>
<line x1="319.90000000000003" y1="85.8" x2="319.90000000000003" y2="87.2" stroke="#858585" stroke-width="0.7"/>
<line x1="322.90000000000003" y1="85.8" x2="322.90000000000003" y2="87.2" stroke="#858585" stroke-width="0.7"/>
<line x1="325.90000000000003" y1="85.8" x2="325.90000000000003" y2="87.2" stroke="#858585" stroke-width="0.7"/>
<line x1="328.90000000000003" y1="85.8" x2="328.90000000000003" y2="87.2" stroke="#858585" stroke-width="0.7"/>
<line x1="331.90000000000003" y1="85.8" x2="331.90000000000003" y2="87.2" stroke="#858585" stroke-width="0.7"/>
<polyline points="320.65,86.20 322.27,82.09 324.03,74.14 327.40,79.35 330.78,85.52" fill="none" stroke="#949494" stroke-width="0.75" stroke-linejoin="round"/>
<rect x="340.3" y="72.5" width="13.5" height="13.7" fill="none" stroke="#d8d8d8" stroke-width="0.5"/>
<line x1="339.2" y1="74.0" x2="340.5" y2="74.0" stroke="#a5a5a5" stroke-width="0.5"/>
<line x1="339.2" y1="76.7" x2="340.5" y2="76.7" stroke="#a5a5a5" stroke-width="0.5"/>
<line x1="339.2" y1="79.4" x2="340.5" y2="79.4" stroke="#a5a5a5" stroke-width="0.5"/>
<line x1="339.2" y1="82.1" x2="340.5" y2="82.1" stroke="#a5a5a5" stroke-width="0.5"/>
<line x1="339.2" y1="84.8" x2="340.5" y2="84.8" stroke="#a5a5a5" stroke-width="0.5"/>
<line x1="340.90000000000003" y1="85.8" x2="340.90000000000003" y2="87.2" stroke="#858585" stroke-width="0.7"/>
<line x1="343.90000000000003" y1="85.8" x2="343.90000000000003" y2="87.2" stroke="#858585" stroke-width="0.7"/>
<line x1="346.90000000000003" y1="85.8" x2="346.90000000000003" y2="87.2" stroke="#858585" stroke-width="0.7"/>
<line x1="349.90000000000003" y1="85.8" x2="349.90000000000003" y2="87.2" stroke="#858585" stroke-width="0.7"/>
<line x1="352.90000000000003" y1="85.8" x2="352.90000000000003" y2="87.2" stroke="#858585" stroke-width="0.7"/>
<polyline points="342.32,86.20 345.03,80.72 347.73,75.92 351.10,74.14 352.05,80.72 352.72,86.20" fill="none" stroke="#949494" stroke-width="0.75" stroke-linejoin="round"/>
<rect x="361.8" y="72.5" width="13.5" height="13.7" fill="none" stroke="#d8d8d8" stroke-width="0.5"/>
<line x1="360.7" y1="74.0" x2="362.0" y2="74.0" stroke="#a5a5a5" stroke-width="0.5"/>
<line x1="360.7" y1="76.7" x2="362.0" y2="76.7" stroke="#a5a5a5" stroke-width="0.5"/>
<line x1="360.7" y1="79.4" x2="362.0" y2="79.4" stroke="#a5a5a5" stroke-width="0.5"/>
<line x1="360.7" y1="82.1" x2="362.0" y2="82.1" stroke="#a5a5a5" stroke-width="0.5"/>
<line x1="360.7" y1="84.8" x2="362.0" y2="84.8" stroke="#a5a5a5" stroke-width="0.5"/>
<line x1="362.40000000000003" y1="85.8" x2="362.40000000000003" y2="87.2" stroke="#858585" stroke-width="0.7"/>
<line x1="365.40000000000003" y1="85.8" x2="365.40000000000003" y2="87.2" stroke="#858585" stroke-width="0.7"/>
<line x1="368.40000000000003" y1="85.8" x2="368.40000000000003" y2="87.2" stroke="#858585" stroke-width="0.7"/>
<line x1="371.40000000000003" y1="85.8" x2="371.40000000000003" y2="87.2" stroke="#858585" stroke-width="0.7"/>
<line x1="374.40000000000003" y1="85.8" x2="374.40000000000003" y2="87.2" stroke="#858585" stroke-width="0.7"/>
<polyline points="363.82,86.20 365.58,82.09 367.20,74.14 369.90,77.98 371.93,84.83 373.95,86.20" fill="none" stroke="#949494" stroke-width="0.75" stroke-linejoin="round"/>
<rect x="382.6" y="72.5" width="13.5" height="13.7" fill="none" stroke="#d8d8d8" stroke-width="0.5"/>
<line x1="381.5" y1="74.0" x2="382.8" y2="74.0" stroke="#a5a5a5" stroke-width="0.5"/>
<line x1="381.5" y1="76.7" x2="382.8" y2="76.7" stroke="#a5a5a5" stroke-width="0.5"/>
<line x1="381.5" y1="79.4" x2="382.8" y2="79.4" stroke="#a5a5a5" stroke-width="0.5"/>
<line x1="381.5" y1="82.1" x2="382.8" y2="82.1" stroke="#a5a5a5" stroke-width="0.5"/>
<line x1="381.5" y1="84.8" x2="382.8" y2="84.8" stroke="#a5a5a5" stroke-width="0.5"/>
<line x1="383.20000000000005" y1="85.8" x2="383.20000000000005" y2="87.2" stroke="#858585" stroke-width="0.7"/>
<line x1="386.20000000000005" y1="85.8" x2="386.20000000000005" y2="87.2" stroke="#858585" stroke-width="0.7"/>
<line x1="389.20000000000005" y1="85.8" x2="389.20000000000005" y2="87.2" stroke="#858585" stroke-width="0.7"/>
<line x1="392.20000000000005" y1="85.8" x2="392.20000000000005" y2="87.2" stroke="#858585" stroke-width="0.7"/>
<line x1="395.20000000000005" y1="85.8" x2="395.20000000000005" y2="87.2" stroke="#858585" stroke-width="0.7"/>
<polyline points="385.30,86.20 390.70,84.83 392.59,73.87 394.08,80.72 395.02,86.20" fill="none" stroke="#949494" stroke-width="0.75" stroke-linejoin="round"/>
<rect x="404.8" y="72.5" width="13.5" height="13.7" fill="none" stroke="#d8d8d8" stroke-width="0.5"/>
<line x1="403.7" y1="74.0" x2="405.0" y2="74.0" stroke="#a5a5a5" stroke-width="0.5"/>
<line x1="403.7" y1="76.7" x2="405.0" y2="76.7" stroke="#a5a5a5" stroke-width="0.5"/>
<line x1="403.7" y1="79.4" x2="405.0" y2="79.4" stroke="#a5a5a5" stroke-width="0.5"/>
<line x1="403.7" y1="82.1" x2="405.0" y2="82.1" stroke="#a5a5a5" stroke-width="0.5"/>
<line x1="403.7" y1="84.8" x2="405.0" y2="84.8" stroke="#a5a5a5" stroke-width="0.5"/>
<line x1="405.40000000000003" y1="85.8" x2="405.40000000000003" y2="87.2" stroke="#858585" stroke-width="0.7"/>
<line x1="408.40000000000003" y1="85.8" x2="408.40000000000003" y2="87.2" stroke="#858585" stroke-width="0.7"/>
<line x1="411.40000000000003" y1="85.8" x2="411.40000000000003" y2="87.2" stroke="#858585" stroke-width="0.7"/>
<line x1="414.40000000000003" y1="85.8" x2="414.40000000000003" y2="87.2" stroke="#858585" stroke-width="0.7"/>
<line x1="417.40000000000003" y1="85.8" x2="417.40000000000003" y2="87.2" stroke="#858585" stroke-width="0.7"/>
<polyline points="407.50,86.20 412.90,84.83 414.79,74.14 416.14,82.09 417.22,86.20" fill="none" stroke="#949494" stroke-width="0.75" stroke-linejoin="round"/>
<rect x="425.8" y="72.5" width="13.5" height="13.7" fill="none" stroke="#d8d8d8" stroke-width="0.5"/>
<line x1="424.7" y1="74.0" x2="426.0" y2="74.0" stroke="#a5a5a5" stroke-width="0.5"/>
<line x1="424.7" y1="76.7" x2="426.0" y2="76.7" stroke="#a5a5a5" stroke-width="0.5"/>
<line x1="424.7" y1="79.4" x2="426.0" y2="79.4" stroke="#a5a5a5" stroke-width="0.5"/>
<line x1="424.7" y1="82.1" x2="426.0" y2="82.1" stroke="#a5a5a5" stroke-width="0.5"/>
<line x1="424.7" y1="84.8" x2="426.0" y2="84.8" stroke="#a5a5a5" stroke-width="0.5"/>
<line x1="426.40000000000003" y1="85.8" x2="426.40000000000003" y2="87.2" stroke="#858585" stroke-width="0.7"/>
<line x1="429.40000000000003" y1="85.8" x2="429.40000000000003" y2="87.2" stroke="#858585" stroke-width="0.7"/>
<line x1="432.40000000000003" y1="85.8" x2="432.40000000000003" y2="87.2" stroke="#858585" stroke-width="0.7"/>
<line x1="435.40000000000003" y1="85.8" x2="435.40000000000003" y2="87.2" stroke="#858585" stroke-width="0.7"/>
<line x1="438.40000000000003" y1="85.8" x2="438.40000000000003" y2="87.2" stroke="#858585" stroke-width="0.7"/>
<polyline points="427.82,86.20 431.20,83.46 433.63,74.14 435.93,82.09 437.95,86.20" fill="none" stroke="#949494" stroke-width="0.75" stroke-linejoin="round"/>
<rect x="446.8" y="72.5" width="13.5" height="13.7" fill="none" stroke="#d8d8d8" stroke-width="0.5"/>
<line x1="445.7" y1="74.0" x2="447.0" y2="74.0" stroke="#a5a5a5" stroke-width="0.5"/>
<line x1="445.7" y1="76.7" x2="447.0" y2="76.7" stroke="#a5a5a5" stroke-width="0.5"/>
<line x1="445.7" y1="79.4" x2="447.0" y2="79.4" stroke="#a5a5a5" stroke-width="0.5"/>
<line x1="445.7" y1="82.1" x2="447.0" y2="82.1" stroke="#a5a5a5" stroke-width="0.5"/>
<line x1="445.7" y1="84.8" x2="447.0" y2="84.8" stroke="#a5a5a5" stroke-width="0.5"/>
<line x1="447.40000000000003" y1="85.8" x2="447.40000000000003" y2="87.2" stroke="#858585" stroke-width="0.7"/>
<line x1="450.40000000000003" y1="85.8" x2="450.40000000000003" y2="87.2" stroke="#858585" stroke-width="0.7"/>
<line x1="453.40000000000003" y1="85.8" x2="453.40000000000003" y2="87.2" stroke="#858585" stroke-width="0.7"/>
<line x1="456.40000000000003" y1="85.8" x2="456.40000000000003" y2="87.2" stroke="#858585" stroke-width="0.7"/>
<line x1="459.40000000000003" y1="85.8" x2="459.40000000000003" y2="87.2" stroke="#858585" stroke-width="0.7"/>
<polyline points="449.50,86.20 453.55,82.09 456.52,73.87 458.28,80.72 459.22,86.20" fill="none" stroke="#949494" stroke-width="0.75" stroke-linejoin="round"/>
<rect x="468.0" y="72.5" width="13.5" height="13.7" fill="none" stroke="#d8d8d8" stroke-width="0.5"/>
<line x1="466.9" y1="74.0" x2="468.2" y2="74.0" stroke="#a5a5a5" stroke-width="0.5"/>
<line x1="466.9" y1="76.7" x2="468.2" y2="76.7" stroke="#a5a5a5" stroke-width="0.5"/>
<line x1="466.9" y1="79.4" x2="468.2" y2="79.4" stroke="#a5a5a5" stroke-width="0.5"/>
<line x1="466.9" y1="82.1" x2="468.2" y2="82.1" stroke="#a5a5a5" stroke-width="0.5"/>
<line x1="466.9" y1="84.8" x2="468.2" y2="84.8" stroke="#a5a5a5" stroke-width="0.5"/>
<line x1="468.6" y1="85.8" x2="468.6" y2="87.2" stroke="#858585" stroke-width="0.7"/>
<line x1="471.6" y1="85.8" x2="471.6" y2="87.2" stroke="#858585" stroke-width="0.7"/>
<line x1="474.6" y1="85.8" x2="474.6" y2="87.2" stroke="#858585" stroke-width="0.7"/>
<line x1="477.6" y1="85.8" x2="477.6" y2="87.2" stroke="#858585" stroke-width="0.7"/>
<line x1="480.6" y1="85.8" x2="480.6" y2="87.2" stroke="#858585" stroke-width="0.7"/>
<polyline points="470.02,86.20 472.05,84.14 473.67,74.56 475.83,84.14 479.48,86.20" fill="none" stroke="#949494" stroke-width="0.75" stroke-linejoin="round"/>
<rect x="489.3" y="72.5" width="13.5" height="13.7" fill="none" stroke="#d8d8d8" stroke-width="0.5"/>
<line x1="488.2" y1="74.0" x2="489.5" y2="74.0" stroke="#a5a5a5" stroke-width="0.5"/>
<line x1="488.2" y1="76.7" x2="489.5" y2="76.7" stroke="#a5a5a5" stroke-width="0.5"/>
<line x1="488.2" y1="79.4" x2="489.5" y2="79.4" stroke="#a5a5a5" stroke-width="0.5"/>
<line x1="488.2" y1="82.1" x2="489.5" y2="82.1" stroke="#a5a5a5" stroke-width="0.5"/>
<line x1="488.2" y1="84.8" x2="489.5" y2="84.8" stroke="#a5a5a5" stroke-width="0.5"/>
<line x1="489.90000000000003" y1="85.8" x2="489.90000000000003" y2="87.2" stroke="#858585" stroke-width="0.7"/>
<line x1="492.90000000000003" y1="85.8" x2="492.90000000000003" y2="87.2" stroke="#858585" stroke-width="0.7"/>
<line x1="495.90000000000003" y1="85.8" x2="495.90000000000003" y2="87.2" stroke="#858585" stroke-width="0.7"/>
<line x1="498.90000000000003" y1="85.8" x2="498.90000000000003" y2="87.2" stroke="#858585" stroke-width="0.7"/>
<line x1="501.90000000000003" y1="85.8" x2="501.90000000000003" y2="87.2" stroke="#858585" stroke-width="0.7"/>
<polyline points="490.92,86.20 493.08,84.14 494.70,73.87 496.73,84.14 500.78,86.20" fill="none" stroke="#949494" stroke-width="0.75" stroke-linejoin="round"/>
<line x1="303" y1="102.6" x2="385" y2="102.6" stroke="#8a8a8a" stroke-width="0.9"/>
<line x1="416.3" y1="102.6" x2="494" y2="102.6" stroke="#555" stroke-width="0.9"/>
<polygon points="493.2,100.8 497.7,102.6 493.2,104.4" fill="#222"/>
<text x="392.2" y="104.9" font-size="6.5" font-weight="bold" text-anchor="start" fill="#1a1a1a" stroke="#1a1a1a" stroke-width="0.12" textLength="16.6" lengthAdjust="spacingAndGlyphs">CD86</text>
<text x="262.0" y="125.4" font-size="11.2" font-weight="bold" text-anchor="start" fill="#000" stroke="#000" stroke-width="0.1">ii</text>
<text x="388.8" y="139.1" font-size="7.2" font-weight="bold" text-anchor="start" fill="#1a1a1a" stroke="#1a1a1a" stroke-width="0.12" textLength="17.2" lengthAdjust="spacingAndGlyphs">CD86</text>
<line x1="297" y1="142" x2="297" y2="247.6" stroke="#cfcfcf" stroke-width="0.7"/>
<line x1="297" y1="247.6" x2="499" y2="247.6" stroke="#888" stroke-width="0.7"/>
<text x="289.2" y="250.6" font-size="8.5" font-weight="normal" text-anchor="end" fill="#2a2a2a" stroke="#2a2a2a" stroke-width="0.1">0</text>
<text x="289.2" y="224.10999999999999" font-size="8.5" font-weight="normal" text-anchor="end" fill="#2a2a2a" stroke="#2a2a2a" stroke-width="0.1">300</text>
<text x="289.2" y="197.62" font-size="8.5" font-weight="normal" text-anchor="end" fill="#2a2a2a" stroke="#2a2a2a" stroke-width="0.1">600</text>
<text x="289.2" y="171.13" font-size="8.5" font-weight="normal" text-anchor="end" fill="#2a2a2a" stroke="#2a2a2a" stroke-width="0.1">900</text>
<text x="289.2" y="144.64" font-size="8.5" font-weight="normal" text-anchor="end" fill="#2a2a2a" stroke="#2a2a2a" stroke-width="0.1">1200</text>
<text x="266.2" y="197.6" font-size="5.2" font-weight="normal" text-anchor="middle" fill="#333" stroke="#333" stroke-width="0.13" transform="rotate(-90 266.2 197.6)" textLength="66.5" lengthAdjust="spacingAndGlyphs">Mean fluorescence intensity</text>
<text x="302" y="255.8" font-size="6.0" font-weight="normal" text-anchor="start" fill="#2a2a2a" stroke="#2a2a2a" stroke-width="0.13" textLength="8.1" lengthAdjust="spacingAndGlyphs">iDC</text>
<text x="319.6" y="255.8" font-size="6.0" font-weight="normal" text-anchor="start" fill="#2a2a2a" stroke="#2a2a2a" stroke-width="0.13" textLength="11.7" lengthAdjust="spacingAndGlyphs">PGN</text>
<text x="340.8" y="255.8" font-size="6.0" font-weight="normal" text-anchor="start" fill="#2a2a2a" stroke="#2a2a2a" stroke-width="0.13" textLength="11.0" lengthAdjust="spacingAndGlyphs">Zym.</text>
<text x="361.3" y="255.8" font-size="6.0" font-weight="normal" text-anchor="start" fill="#2a2a2a" stroke="#2a2a2a" stroke-width="0.13" textLength="9.5" lengthAdjust="spacingAndGlyphs">LTA</text>
<text x="377.8" y="255.8" font-size="6.0" font-weight="normal" text-anchor="start" fill="#2a2a2a" stroke="#2a2a2a" stroke-width="0.13" textLength="19.0" lengthAdjust="spacingAndGlyphs">Poly(I:C)</text>
<text x="402" y="255.8" font-size="6.0" font-weight="normal" text-anchor="start" fill="#2a2a2a" stroke="#2a2a2a" stroke-width="0.13" textLength="9.5" lengthAdjust="spacingAndGlyphs">LPS</text>
<text x="425.3" y="255.8" font-size="6.0" font-weight="normal" text-anchor="start" fill="#2a2a2a" stroke="#2a2a2a" stroke-width="0.13" textLength="9.9" lengthAdjust="spacingAndGlyphs">Flag.</text>
<text x="440" y="255.8" font-size="6.0" font-weight="normal" text-anchor="start" fill="#2a2a2a" stroke="#2a2a2a" stroke-width="0.13" textLength="16" lengthAdjust="spacingAndGlyphs">ssRNA</text>
<text x="464.8" y="255.8" font-size="6.0" font-weight="normal" text-anchor="start" fill="#2a2a2a" stroke="#2a2a2a" stroke-width="0.13" textLength="8.9" lengthAdjust="spacingAndGlyphs">Lox.</text>
<text x="483.9" y="255.8" font-size="6.0" font-weight="normal" text-anchor="start" fill="#2a2a2a" stroke="#2a2a2a" stroke-width="0.13" textLength="9.5" lengthAdjust="spacingAndGlyphs">CpG</text>
<rect x="299.95" y="242.74" width="4.18" height="4.86" fill="#000" stroke="#222" stroke-width="0.5"/>
<line x1="302.04" y1="242.74" x2="302.04" y2="241.86" stroke="#333" stroke-width="0.6"/>
<line x1="300.64" y1="241.86" x2="303.44" y2="241.86" stroke="#333" stroke-width="0.6"/>
<rect x="304.63" y="242.30" width="4.18" height="5.30" fill="#fff" stroke="#222" stroke-width="0.5"/>
<line x1="306.72" y1="243.19" x2="306.72" y2="241.42" stroke="#333" stroke-width="0.6"/>
<line x1="305.32" y1="241.42" x2="308.12" y2="241.42" stroke="#333" stroke-width="0.6"/>
<rect x="309.31" y="241.86" width="4.18" height="5.74" fill="#9a9a9a" stroke="#222" stroke-width="0.5"/>
<line x1="311.40" y1="241.86" x2="311.40" y2="240.80" stroke="#333" stroke-width="0.6"/>
<line x1="310.00" y1="240.80" x2="312.80" y2="240.80" stroke="#333" stroke-width="0.6"/>
<rect x="320.19" y="237.45" width="4.18" height="10.15" fill="#000" stroke="#222" stroke-width="0.5"/>
<line x1="322.28" y1="237.45" x2="322.28" y2="235.24" stroke="#333" stroke-width="0.6"/>
<line x1="320.88" y1="235.24" x2="323.68" y2="235.24" stroke="#333" stroke-width="0.6"/>
<rect x="324.87" y="234.35" width="4.18" height="13.25" fill="#fff" stroke="#222" stroke-width="0.5"/>
<line x1="326.96" y1="236.56" x2="326.96" y2="232.15" stroke="#333" stroke-width="0.6"/>
<line x1="325.56" y1="232.15" x2="328.36" y2="232.15" stroke="#333" stroke-width="0.6"/>
<line x1="325.56" y1="236.56" x2="328.36" y2="236.56" stroke="#333" stroke-width="0.6"/>
<rect x="329.55" y="233.47" width="4.18" height="14.13" fill="#9a9a9a" stroke="#222" stroke-width="0.5"/>
<line x1="331.64" y1="233.47" x2="331.64" y2="231.26" stroke="#333" stroke-width="0.6"/>
<line x1="330.24" y1="231.26" x2="333.04" y2="231.26" stroke="#333" stroke-width="0.6"/>
<rect x="340.43" y="192.68" width="4.18" height="54.92" fill="#000" stroke="#222" stroke-width="0.5"/>
<line x1="342.52" y1="192.68" x2="342.52" y2="186.94" stroke="#333" stroke-width="0.6"/>
<line x1="341.12" y1="186.94" x2="343.92" y2="186.94" stroke="#333" stroke-width="0.6"/>
<rect x="345.11" y="196.56" width="4.18" height="51.04" fill="#fff" stroke="#222" stroke-width="0.5"/>
<line x1="347.20" y1="201.86" x2="347.20" y2="191.26" stroke="#333" stroke-width="0.6"/>
<line x1="345.80" y1="191.26" x2="348.60" y2="191.26" stroke="#333" stroke-width="0.6"/>
<line x1="345.80" y1="201.86" x2="348.60" y2="201.86" stroke="#333" stroke-width="0.6"/>
<rect x="349.79" y="196.21" width="4.18" height="51.39" fill="#9a9a9a" stroke="#222" stroke-width="0.5"/>
<line x1="351.88" y1="196.21" x2="351.88" y2="191.35" stroke="#333" stroke-width="0.6"/>
<line x1="350.48" y1="191.35" x2="353.28" y2="191.35" stroke="#333" stroke-width="0.6"/>
<rect x="360.67" y="235.24" width="4.18" height="12.36" fill="#000" stroke="#222" stroke-width="0.5"/>
<line x1="362.76" y1="235.24" x2="362.76" y2="232.59" stroke="#333" stroke-width="0.6"/>
<line x1="361.36" y1="232.59" x2="364.16" y2="232.59" stroke="#333" stroke-width="0.6"/>
<rect x="365.35" y="229.23" width="4.18" height="18.37" fill="#fff" stroke="#222" stroke-width="0.5"/>
<line x1="367.44" y1="231.44" x2="367.44" y2="227.03" stroke="#333" stroke-width="0.6"/>
<line x1="366.04" y1="227.03" x2="368.84" y2="227.03" stroke="#333" stroke-width="0.6"/>
<line x1="366.04" y1="231.44" x2="368.84" y2="231.44" stroke="#333" stroke-width="0.6"/>
<rect x="370.03" y="228.35" width="4.18" height="19.25" fill="#9a9a9a" stroke="#222" stroke-width="0.5"/>
<line x1="372.12" y1="228.35" x2="372.12" y2="226.58" stroke="#333" stroke-width="0.6"/>
<line x1="370.72" y1="226.58" x2="373.52" y2="226.58" stroke="#333" stroke-width="0.6"/>
<rect x="380.91" y="169.19" width="4.18" height="78.41" fill="#000" stroke="#222" stroke-width="0.5"/>
<line x1="383.00" y1="169.19" x2="383.00" y2="162.57" stroke="#333" stroke-width="0.6"/>
<line x1="381.60" y1="162.57" x2="384.40" y2="162.57" stroke="#333" stroke-width="0.6"/>
<rect x="385.59" y="170.60" width="4.18" height="77.00" fill="#fff" stroke="#222" stroke-width="0.5"/>
<line x1="387.68" y1="175.02" x2="387.68" y2="166.19" stroke="#333" stroke-width="0.6"/>
<line x1="386.28" y1="166.19" x2="389.08" y2="166.19" stroke="#333" stroke-width="0.6"/>
<line x1="386.28" y1="175.02" x2="389.08" y2="175.02" stroke="#333" stroke-width="0.6"/>
<rect x="390.27" y="170.96" width="4.18" height="76.64" fill="#9a9a9a" stroke="#222" stroke-width="0.5"/>
<line x1="392.36" y1="170.96" x2="392.36" y2="165.66" stroke="#333" stroke-width="0.6"/>
<line x1="390.96" y1="165.66" x2="393.76" y2="165.66" stroke="#333" stroke-width="0.6"/>
<rect x="401.15" y="157.71" width="4.18" height="89.89" fill="#000" stroke="#222" stroke-width="0.5"/>
<line x1="403.24" y1="157.71" x2="403.24" y2="149.06" stroke="#333" stroke-width="0.6"/>
<line x1="401.84" y1="149.06" x2="404.64" y2="149.06" stroke="#333" stroke-width="0.6"/>
<rect x="405.83" y="164.16" width="4.18" height="83.44" fill="#fff" stroke="#222" stroke-width="0.5"/>
<line x1="407.92" y1="172.10" x2="407.92" y2="156.21" stroke="#333" stroke-width="0.6"/>
<line x1="406.52" y1="156.21" x2="409.32" y2="156.21" stroke="#333" stroke-width="0.6"/>
<line x1="406.52" y1="172.10" x2="409.32" y2="172.10" stroke="#333" stroke-width="0.6"/>
<rect x="410.51" y="167.07" width="4.18" height="80.53" fill="#9a9a9a" stroke="#222" stroke-width="0.5"/>
<line x1="412.60" y1="167.07" x2="412.60" y2="159.12" stroke="#333" stroke-width="0.6"/>
<line x1="411.20" y1="159.12" x2="414.00" y2="159.12" stroke="#333" stroke-width="0.6"/>
<rect x="421.39" y="206.98" width="4.18" height="40.62" fill="#000" stroke="#222" stroke-width="0.5"/>
<line x1="423.48" y1="206.98" x2="423.48" y2="203.45" stroke="#333" stroke-width="0.6"/>
<line x1="422.08" y1="203.45" x2="424.88" y2="203.45" stroke="#333" stroke-width="0.6"/>
<rect x="426.07" y="197.09" width="4.18" height="50.51" fill="#fff" stroke="#222" stroke-width="0.5"/>
<line x1="428.16" y1="203.27" x2="428.16" y2="190.91" stroke="#333" stroke-width="0.6"/>
<line x1="426.76" y1="190.91" x2="429.56" y2="190.91" stroke="#333" stroke-width="0.6"/>
<line x1="426.76" y1="203.27" x2="429.56" y2="203.27" stroke="#333" stroke-width="0.6"/>
<rect x="430.75" y="200.36" width="4.18" height="47.24" fill="#9a9a9a" stroke="#222" stroke-width="0.5"/>
<line x1="432.84" y1="200.36" x2="432.84" y2="198.15" stroke="#333" stroke-width="0.6"/>
<line x1="431.44" y1="198.15" x2="434.24" y2="198.15" stroke="#333" stroke-width="0.6"/>
<rect x="441.63" y="184.47" width="4.18" height="63.13" fill="#000" stroke="#222" stroke-width="0.5"/>
<line x1="443.72" y1="184.47" x2="443.72" y2="177.40" stroke="#333" stroke-width="0.6"/>
<line x1="442.32" y1="177.40" x2="445.12" y2="177.40" stroke="#333" stroke-width="0.6"/>
<rect x="446.31" y="178.73" width="4.18" height="68.87" fill="#fff" stroke="#222" stroke-width="0.5"/>
<line x1="448.40" y1="186.67" x2="448.40" y2="170.78" stroke="#333" stroke-width="0.6"/>
<line x1="447.00" y1="170.78" x2="449.80" y2="170.78" stroke="#333" stroke-width="0.6"/>
<line x1="447.00" y1="186.67" x2="449.80" y2="186.67" stroke="#333" stroke-width="0.6"/>
<rect x="450.99" y="180.05" width="4.18" height="67.55" fill="#9a9a9a" stroke="#222" stroke-width="0.5"/>
<line x1="453.08" y1="180.05" x2="453.08" y2="173.16" stroke="#333" stroke-width="0.6"/>
<line x1="451.68" y1="173.16" x2="454.48" y2="173.16" stroke="#333" stroke-width="0.6"/>
<rect x="461.87" y="243.63" width="4.18" height="3.97" fill="#000" stroke="#222" stroke-width="0.5"/>
<line x1="463.96" y1="243.63" x2="463.96" y2="242.92" stroke="#333" stroke-width="0.6"/>
<line x1="462.56" y1="242.92" x2="465.36" y2="242.92" stroke="#333" stroke-width="0.6"/>
<rect x="466.55" y="243.19" width="4.18" height="4.42" fill="#fff" stroke="#222" stroke-width="0.5"/>
<line x1="468.64" y1="243.89" x2="468.64" y2="242.48" stroke="#333" stroke-width="0.6"/>
<line x1="467.24" y1="242.48" x2="470.04" y2="242.48" stroke="#333" stroke-width="0.6"/>
<rect x="471.23" y="243.89" width="4.18" height="3.71" fill="#9a9a9a" stroke="#222" stroke-width="0.5"/>
<line x1="473.32" y1="243.89" x2="473.32" y2="243.19" stroke="#333" stroke-width="0.6"/>
<line x1="471.92" y1="243.19" x2="474.72" y2="243.19" stroke="#333" stroke-width="0.6"/>
<rect x="482.11" y="244.51" width="4.18" height="3.09" fill="#000" stroke="#222" stroke-width="0.5"/>
<line x1="484.20" y1="244.51" x2="484.20" y2="243.80" stroke="#333" stroke-width="0.6"/>
<line x1="482.80" y1="243.80" x2="485.60" y2="243.80" stroke="#333" stroke-width="0.6"/>
<rect x="486.79" y="243.19" width="4.18" height="4.42" fill="#fff" stroke="#222" stroke-width="0.5"/>
<line x1="488.88" y1="243.89" x2="488.88" y2="242.48" stroke="#333" stroke-width="0.6"/>
<line x1="487.48" y1="242.48" x2="490.28" y2="242.48" stroke="#333" stroke-width="0.6"/>
<rect x="491.47" y="243.63" width="4.18" height="3.97" fill="#9a9a9a" stroke="#222" stroke-width="0.5"/>
<line x1="493.56" y1="243.63" x2="493.56" y2="242.92" stroke="#333" stroke-width="0.6"/>
<line x1="492.16" y1="242.92" x2="494.96" y2="242.92" stroke="#333" stroke-width="0.6"/>
<rect x="461.2" y="117.9" width="57.69999999999999" height="54.900000000000006" fill="#fff" stroke="#555" stroke-width="0.7"/>
<rect x="467.1" y="126.8" width="6.3" height="6.3" fill="#000" stroke="#333" stroke-width="0.5"/>
<rect x="467.1" y="139.8" width="6.3" height="6.3" fill="#fff" stroke="#333" stroke-width="0.5"/>
<rect x="467.1" y="155.5" width="6.3" height="6.3" fill="#9a9a9a" stroke="#333" stroke-width="0.5"/>
<text x="483" y="131.9" font-size="4.3" font-weight="normal" text-anchor="start" fill="#333" stroke="#333" stroke-width="0.13" textLength="15.4" lengthAdjust="spacingAndGlyphs">XLA-DCs</text>
<text x="484" y="145.5" font-size="4.3" font-weight="normal" text-anchor="start" fill="#333" stroke="#333" stroke-width="0.13" textLength="18.8" lengthAdjust="spacingAndGlyphs">control DCs</text>
<text x="484" y="156.9" font-size="4.3" font-weight="normal" text-anchor="start" fill="#333" stroke="#333" stroke-width="0.13" textLength="18.8" lengthAdjust="spacingAndGlyphs">control DCs</text>
<text x="493.3" y="161.39999999999998" font-size="4.3" font-weight="normal" text-anchor="middle" fill="#333" stroke="#333" stroke-width="0.13">+</text>
<text x="478.3" y="166.8" font-size="4.3" font-weight="normal" text-anchor="start" fill="#333" stroke="#333" stroke-width="0.13" textLength="29.6" lengthAdjust="spacingAndGlyphs">LFM-A13 100 µM</text>
<text x="141.5" y="277.9" font-size="11.6" font-weight="bold" text-anchor="start" fill="#000" stroke="#000" stroke-width="0.1">D</text>
<line x1="172.4" y1="307" x2="172.4" y2="405.5" stroke="#d4d4d4" stroke-width="0.6"/>
<line x1="172.4" y1="405.5" x2="351.5" y2="405.5" stroke="#999" stroke-width="0.6"/>
<text x="167.6" y="407.4" font-size="5.6" font-weight="normal" text-anchor="end" fill="#333" stroke="#333" stroke-width="0.06" font-family='"Liberation Serif", serif' textLength="3.7" lengthAdjust="spacingAndGlyphs">0</text>
<text x="167.6" y="391.17999999999995" font-size="5.6" font-weight="normal" text-anchor="end" fill="#333" stroke="#333" stroke-width="0.06" font-family='"Liberation Serif", serif' textLength="7.4" lengthAdjust="spacingAndGlyphs">20</text>
<text x="167.6" y="374.96" font-size="5.6" font-weight="normal" text-anchor="end" fill="#333" stroke="#333" stroke-width="0.06" font-family='"Liberation Serif", serif' textLength="7.4" lengthAdjust="spacingAndGlyphs">40</text>
<text x="167.6" y="358.73999999999995" font-size="5.6" font-weight="normal" text-anchor="end" fill="#333" stroke="#333" stroke-width="0.06" font-family='"Liberation Serif", serif' textLength="7.4" lengthAdjust="spacingAndGlyphs">60</text>
<text x="167.6" y="342.52" font-size="5.6" font-weight="normal" text-anchor="end" fill="#333" stroke="#333" stroke-width="0.06" font-family='"Liberation Serif", serif' textLength="7.4" lengthAdjust="spacingAndGlyphs">80</text>
<text x="167.6" y="326.29999999999995" font-size="5.6" font-weight="normal" text-anchor="end" fill="#333" stroke="#333" stroke-width="0.06" font-family='"Liberation Serif", serif' textLength="11.1" lengthAdjust="spacingAndGlyphs">100</text>
<text x="167.6" y="310.08" font-size="5.6" font-weight="normal" text-anchor="end" fill="#333" stroke="#333" stroke-width="0.06" font-family='"Liberation Serif", serif' textLength="11.1" lengthAdjust="spacingAndGlyphs">120</text>
<text x="145.2" y="356" font-size="5.4" font-weight="normal" text-anchor="middle" fill="#222" stroke="#222" stroke-width="0.13" transform="rotate(-90 145.2 356)" textLength="38" lengthAdjust="spacingAndGlyphs">Endocytic activity</text>
<text x="152.8" y="354.8" font-size="5.4" font-weight="normal" text-anchor="middle" fill="#222" stroke="#222" stroke-width="0.13" transform="rotate(-90 152.8 354.8)" textLength="47" lengthAdjust="spacingAndGlyphs">% of immature DCs</text>
<text x="178.7" y="415.8" font-size="6.0" font-weight="normal" text-anchor="start" fill="#2a2a2a" stroke="#2a2a2a" stroke-width="0.13" textLength="7.5" lengthAdjust="spacingAndGlyphs">iDC</text>
<text x="195.7" y="415.8" font-size="6.0" font-weight="normal" text-anchor="start" fill="#2a2a2a" stroke="#2a2a2a" stroke-width="0.13" textLength="11.6" lengthAdjust="spacingAndGlyphs">PGN</text>
<text x="217.5" y="415.8" font-size="6.0" font-weight="normal" text-anchor="start" fill="#2a2a2a" stroke="#2a2a2a" stroke-width="0.13" textLength="10.5" lengthAdjust="spacingAndGlyphs">Zym.</text>
<text x="233.1" y="415.8" font-size="6.0" font-weight="normal" text-anchor="start" fill="#2a2a2a" stroke="#2a2a2a" stroke-width="0.13" textLength="19.1" lengthAdjust="spacingAndGlyphs">Poly(I:C)</text>
<text x="257" y="415.8" font-size="6.0" font-weight="normal" text-anchor="start" fill="#2a2a2a" stroke="#2a2a2a" stroke-width="0.13" textLength="9.1" lengthAdjust="spacingAndGlyphs">LPS</text>
<text x="278.3" y="415.8" font-size="6.0" font-weight="normal" text-anchor="start" fill="#2a2a2a" stroke="#2a2a2a" stroke-width="0.13" textLength="10.1" lengthAdjust="spacingAndGlyphs">Flag.</text>
<text x="293.1" y="415.8" font-size="6.0" font-weight="normal" text-anchor="start" fill="#2a2a2a" stroke="#2a2a2a" stroke-width="0.13" textLength="15.8" lengthAdjust="spacingAndGlyphs">ssRNA</text>
<text x="317.8" y="415.8" font-size="6.0" font-weight="normal" text-anchor="start" fill="#2a2a2a" stroke="#2a2a2a" stroke-width="0.13" textLength="9.1" lengthAdjust="spacingAndGlyphs">Lox.</text>
<text x="336.9" y="415.8" font-size="6.0" font-weight="normal" text-anchor="start" fill="#2a2a2a" stroke="#2a2a2a" stroke-width="0.13" textLength="9.5" lengthAdjust="spacingAndGlyphs">CpG</text>
<rect x="175.40" y="324.40" width="4.20" height="81.10" fill="#000" stroke="#333" stroke-width="0.45"/>
<rect x="180.00" y="324.40" width="4.20" height="81.10" fill="#fff" stroke="#333" stroke-width="0.45"/>
<rect x="184.60" y="324.40" width="4.20" height="81.10" fill="#9a9a9a" stroke="#333" stroke-width="0.45"/>
<rect x="195.30" y="351.16" width="4.20" height="54.34" fill="#000" stroke="#333" stroke-width="0.45"/>
<rect x="199.90" y="348.73" width="4.20" height="56.77" fill="#fff" stroke="#333" stroke-width="0.45"/>
<rect x="204.50" y="353.60" width="4.20" height="51.90" fill="#9a9a9a" stroke="#333" stroke-width="0.45"/>
<rect x="215.20" y="364.14" width="4.20" height="41.36" fill="#000" stroke="#333" stroke-width="0.45"/>
<rect x="219.80" y="342.24" width="4.20" height="63.26" fill="#fff" stroke="#333" stroke-width="0.45"/>
<rect x="224.40" y="358.46" width="4.20" height="47.04" fill="#9a9a9a" stroke="#333" stroke-width="0.45"/>
<rect x="235.10" y="399.82" width="4.20" height="5.68" fill="#000" stroke="#333" stroke-width="0.45"/>
<rect x="239.70" y="396.58" width="4.20" height="8.92" fill="#fff" stroke="#333" stroke-width="0.45"/>
<rect x="244.30" y="389.28" width="4.20" height="16.22" fill="#9a9a9a" stroke="#333" stroke-width="0.45"/>
<rect x="255.00" y="386.85" width="4.20" height="18.65" fill="#000" stroke="#333" stroke-width="0.45"/>
<rect x="259.60" y="386.85" width="4.20" height="18.65" fill="#fff" stroke="#333" stroke-width="0.45"/>
<rect x="264.20" y="382.79" width="4.20" height="22.71" fill="#9a9a9a" stroke="#333" stroke-width="0.45"/>
<rect x="274.90" y="386.85" width="4.20" height="18.65" fill="#000" stroke="#333" stroke-width="0.45"/>
<rect x="279.50" y="387.66" width="4.20" height="17.84" fill="#fff" stroke="#333" stroke-width="0.45"/>
<rect x="284.10" y="364.95" width="4.20" height="40.55" fill="#9a9a9a" stroke="#333" stroke-width="0.45"/>
<rect x="294.80" y="381.98" width="4.20" height="23.52" fill="#000" stroke="#333" stroke-width="0.45"/>
<rect x="299.40" y="389.28" width="4.20" height="16.22" fill="#fff" stroke="#333" stroke-width="0.45"/>
<rect x="304.00" y="381.17" width="4.20" height="24.33" fill="#9a9a9a" stroke="#333" stroke-width="0.45"/>
<rect x="314.70" y="321.97" width="4.20" height="83.53" fill="#000" stroke="#333" stroke-width="0.45"/>
<rect x="319.30" y="310.61" width="4.20" height="94.89" fill="#fff" stroke="#333" stroke-width="0.45"/>
<rect x="323.90" y="314.67" width="4.20" height="90.83" fill="#9a9a9a" stroke="#333" stroke-width="0.45"/>
<rect x="334.60" y="337.38" width="4.20" height="68.12" fill="#000" stroke="#333" stroke-width="0.45"/>
<rect x="339.20" y="344.68" width="4.20" height="60.83" fill="#fff" stroke="#333" stroke-width="0.45"/>
<rect x="343.80" y="355.22" width="4.20" height="50.28" fill="#9a9a9a" stroke="#333" stroke-width="0.45"/>
<rect x="338.5" y="269.4" width="58.30000000000001" height="55.0" fill="#fff" stroke="#555" stroke-width="0.7"/>
<rect x="345.0" y="278.6" width="6.3" height="6.3" fill="#000" stroke="#333" stroke-width="0.5"/>
<rect x="345.0" y="291.6" width="6.3" height="6.3" fill="#fff" stroke="#333" stroke-width="0.5"/>
<rect x="345.0" y="307.5" width="6.3" height="6.3" fill="#9a9a9a" stroke="#333" stroke-width="0.5"/>
<text x="360.5" y="283.3" font-size="4.3" font-weight="normal" text-anchor="start" fill="#333" stroke="#333" stroke-width="0.13" textLength="15.7" lengthAdjust="spacingAndGlyphs">XLA-DCs</text>
<text x="360.8" y="296.90000000000003" font-size="4.3" font-weight="normal" text-anchor="start" fill="#333" stroke="#333" stroke-width="0.13" textLength="20.0" lengthAdjust="spacingAndGlyphs">control DCs</text>
<text x="360.8" y="308.7" font-size="4.3" font-weight="normal" text-anchor="start" fill="#333" stroke="#333" stroke-width="0.13" textLength="20.0" lengthAdjust="spacingAndGlyphs">control DCs</text>
<text x="370.8" y="313.2" font-size="4.3" font-weight="normal" text-anchor="middle" fill="#333" stroke="#333" stroke-width="0.13">+</text>
<text x="356.2" y="318.5" font-size="4.3" font-weight="normal" text-anchor="start" fill="#333" stroke="#333" stroke-width="0.13" textLength="29.5" lengthAdjust="spacingAndGlyphs">LFM-A13 100 µM</text>
</svg>
</body></html>
